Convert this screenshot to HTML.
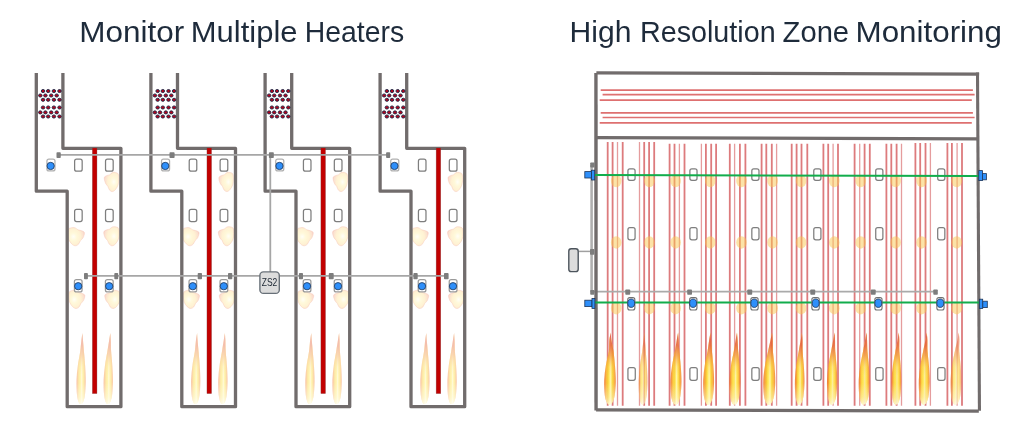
<!DOCTYPE html>
<html><head><meta charset="utf-8"><title>Heaters</title>
<style>
html,body{margin:0;padding:0;background:#fff;}
body{width:1024px;height:421px;overflow:hidden;position:relative;font-family:"Liberation Sans",sans-serif;}
.t{position:absolute;top:0;color:#1e2b3b;font-size:28.6px;white-space:nowrap;line-height:1;}
svg{position:absolute;left:0;top:0;}
text{filter:url(#noop);}
</style></head><body>
<svg width="1024" height="421" viewBox="0 0 1024 421">

<defs>
 <filter id="noop" x="-5%" y="-20%" width="110%" height="140%"><feOffset dx="0" dy="0"/></filter>
 <linearGradient id="flameL" x1="0" y1="0" x2="0" y2="1">
  <stop offset="0" stop-color="#f3a89c"/>
  <stop offset="0.3" stop-color="#f7bc98"/>
  <stop offset="0.6" stop-color="#fcdc98"/>
  <stop offset="0.85" stop-color="#fdeeb0"/>
  <stop offset="1" stop-color="#fff6d0"/>
 </linearGradient>
 <linearGradient id="flameLc" x1="0" y1="0" x2="0" y2="1">
  <stop offset="0" stop-color="#fde8c0" stop-opacity="0"/>
  <stop offset="0.45" stop-color="#fff0c0"/>
  <stop offset="0.8" stop-color="#fffbe8"/>
  <stop offset="1" stop-color="#ffffff"/>
 </linearGradient>
 <linearGradient id="flameR" x1="0" y1="0" x2="0" y2="1">
  <stop offset="0" stop-color="#e0584a" stop-opacity="0.45"/>
  <stop offset="0.12" stop-color="#e6623c" stop-opacity="0.8"/>
  <stop offset="0.22" stop-color="#ee7a32"/>
  <stop offset="0.36" stop-color="#f59c2a"/>
  <stop offset="0.5" stop-color="#fac232"/>
  <stop offset="0.66" stop-color="#fdda40"/>
  <stop offset="0.85" stop-color="#ffee78"/>
  <stop offset="1" stop-color="#fff6b8"/>
 </linearGradient>
 <linearGradient id="flameH" x1="0" y1="0" x2="1" y2="0">
  <stop offset="0" stop-color="#f07434"/>
  <stop offset="0.12" stop-color="#f69a2c"/>
  <stop offset="0.26" stop-color="#fcd030"/>
  <stop offset="0.42" stop-color="#ffe848"/>
  <stop offset="0.55" stop-color="#fff4a0"/>
  <stop offset="0.68" stop-color="#ffe848"/>
  <stop offset="0.82" stop-color="#fbc030"/>
  <stop offset="1" stop-color="#f27c34"/>
 </linearGradient>
 <linearGradient id="flameV" x1="0" y1="0" x2="0" y2="1">
  <stop offset="0" stop-color="#e05848"/>
  <stop offset="0.18" stop-color="#e86a3a"/>
  <stop offset="0.32" stop-color="#f08432" stop-opacity="0.7"/>
  <stop offset="0.48" stop-color="#f8a030" stop-opacity="0.15"/>
  <stop offset="0.6" stop-color="#f8a030" stop-opacity="0"/>
 </linearGradient>
 <linearGradient id="flameB" x1="0" y1="0" x2="0" y2="1">
  <stop offset="0.7" stop-color="#fff8d0" stop-opacity="0"/>
  <stop offset="0.9" stop-color="#fff8d0" stop-opacity="0.45"/>
  <stop offset="1" stop-color="#ffffff" stop-opacity="0.7"/>
 </linearGradient>
 <linearGradient id="flameEdge" x1="0" y1="0" x2="0" y2="1">
  <stop offset="0" stop-color="#e05a4a" stop-opacity="0.5"/>
  <stop offset="0.3" stop-color="#e8683a" stop-opacity="0.8"/>
  <stop offset="0.7" stop-color="#f49a30" stop-opacity="0.8"/>
  <stop offset="1" stop-color="#fcd040" stop-opacity="0.6"/>
 </linearGradient>
 <linearGradient id="flameRc" x1="0" y1="0" x2="0" y2="1">
  <stop offset="0" stop-color="#ffd040" stop-opacity="0"/>
  <stop offset="0.35" stop-color="#fcd434" stop-opacity="0.6"/>
  <stop offset="0.6" stop-color="#fff080"/>
  <stop offset="0.82" stop-color="#fffce8"/>
  <stop offset="1" stop-color="#ffffff"/>
 </linearGradient>
 <radialGradient id="blobLr" cx="0.66" cy="0.5" r="0.7">
  <stop offset="0" stop-color="#fffef6"/>
  <stop offset="0.3" stop-color="#fff8d4"/>
  <stop offset="0.6" stop-color="#fff0cc"/>
  <stop offset="0.85" stop-color="#fbdcc8"/>
  <stop offset="1" stop-color="#f8c8bc"/>
 </radialGradient>
 <radialGradient id="blobLl" cx="0.34" cy="0.5" r="0.7">
  <stop offset="0" stop-color="#fffef6"/>
  <stop offset="0.3" stop-color="#fff8d4"/>
  <stop offset="0.6" stop-color="#fff0cc"/>
  <stop offset="0.85" stop-color="#fbdcc8"/>
  <stop offset="1" stop-color="#f8c8bc"/>
 </radialGradient>
 <radialGradient id="blobR" cx="0.6" cy="0.5" r="0.6">
  <stop offset="0" stop-color="#fde9a8"/>
  <stop offset="0.6" stop-color="#fce2a0"/>
  <stop offset="1" stop-color="#f5b860"/>
 </radialGradient>
</defs>

<g id="left"><g opacity="0.42"><path d="M82.5,333 C82.31,334.18 81.76,337.02 81.38,340.1 C81,343.18 80.82,347.2 80.22,351.46 C79.62,355.72 78.42,360.93 77.8,365.66 C77.18,370.39 76.64,375.01 76.5,379.86 C76.36,384.71 76.58,390.98 76.97,394.77 C77.35,398.56 78.17,401.04 78.83,402.58 C79.48,404.12 80.2,404 80.87,404 C81.54,404 82.16,404 82.82,402.58 C83.49,401.16 84.37,399.03 84.87,395.48 C85.37,391.93 85.75,386.25 85.8,381.28 C85.85,376.31 85.46,370.63 85.15,365.66 C84.84,360.69 84.3,355.72 83.94,351.46 C83.58,347.2 83.2,343.18 82.97,340.1 C82.73,337.02 82.58,334.18 82.5,333 Z" fill="url(#flameH)"/><path d="M82.5,333 C82.31,334.18 81.76,337.02 81.38,340.1 C81,343.18 80.82,347.2 80.22,351.46 C79.62,355.72 78.42,360.93 77.8,365.66 C77.18,370.39 76.64,375.01 76.5,379.86 C76.36,384.71 76.58,390.98 76.97,394.77 C77.35,398.56 78.17,401.04 78.83,402.58 C79.48,404.12 80.2,404 80.87,404 C81.54,404 82.16,404 82.82,402.58 C83.49,401.16 84.37,399.03 84.87,395.48 C85.37,391.93 85.75,386.25 85.8,381.28 C85.85,376.31 85.46,370.63 85.15,365.66 C84.84,360.69 84.3,355.72 83.94,351.46 C83.58,347.2 83.2,343.18 82.97,340.1 C82.73,337.02 82.58,334.18 82.5,333 Z" fill="url(#flameV)"/><path d="M82.5,333 C82.31,334.18 81.76,337.02 81.38,340.1 C81,343.18 80.82,347.2 80.22,351.46 C79.62,355.72 78.42,360.93 77.8,365.66 C77.18,370.39 76.64,375.01 76.5,379.86 C76.36,384.71 76.58,390.98 76.97,394.77 C77.35,398.56 78.17,401.04 78.83,402.58 C79.48,404.12 80.2,404 80.87,404 C81.54,404 82.16,404 82.82,402.58 C83.49,401.16 84.37,399.03 84.87,395.48 C85.37,391.93 85.75,386.25 85.8,381.28 C85.85,376.31 85.46,370.63 85.15,365.66 C84.84,360.69 84.3,355.72 83.94,351.46 C83.58,347.2 83.2,343.18 82.97,340.1 C82.73,337.02 82.58,334.18 82.5,333 Z" fill="url(#flameB)"/></g>
<g opacity="0.42"><path d="M110.3,333 C110.11,334.18 109.66,337.02 109.17,340.1 C108.68,343.18 108.07,347.2 107.36,351.46 C106.65,355.72 105.54,360.93 104.92,365.66 C104.29,370.39 103.74,375.01 103.6,379.86 C103.46,384.71 103.68,390.98 104.07,394.77 C104.46,398.56 105.29,401.04 105.95,402.58 C106.61,404.12 107.34,404 108.02,404 C108.69,404 109.32,404 109.99,402.58 C110.67,401.16 111.56,399.03 112.06,395.48 C112.56,391.93 112.95,386.25 113,381.28 C113.05,376.31 112.66,370.63 112.34,365.66 C112.03,360.69 111.38,355.72 111.12,351.46 C110.86,347.2 110.91,343.18 110.77,340.1 C110.63,337.02 110.38,334.18 110.3,333 Z" fill="url(#flameH)"/><path d="M110.3,333 C110.11,334.18 109.66,337.02 109.17,340.1 C108.68,343.18 108.07,347.2 107.36,351.46 C106.65,355.72 105.54,360.93 104.92,365.66 C104.29,370.39 103.74,375.01 103.6,379.86 C103.46,384.71 103.68,390.98 104.07,394.77 C104.46,398.56 105.29,401.04 105.95,402.58 C106.61,404.12 107.34,404 108.02,404 C108.69,404 109.32,404 109.99,402.58 C110.67,401.16 111.56,399.03 112.06,395.48 C112.56,391.93 112.95,386.25 113,381.28 C113.05,376.31 112.66,370.63 112.34,365.66 C112.03,360.69 111.38,355.72 111.12,351.46 C110.86,347.2 110.91,343.18 110.77,340.1 C110.63,337.02 110.38,334.18 110.3,333 Z" fill="url(#flameV)"/><path d="M110.3,333 C110.11,334.18 109.66,337.02 109.17,340.1 C108.68,343.18 108.07,347.2 107.36,351.46 C106.65,355.72 105.54,360.93 104.92,365.66 C104.29,370.39 103.74,375.01 103.6,379.86 C103.46,384.71 103.68,390.98 104.07,394.77 C104.46,398.56 105.29,401.04 105.95,402.58 C106.61,404.12 107.34,404 108.02,404 C108.69,404 109.32,404 109.99,402.58 C110.67,401.16 111.56,399.03 112.06,395.48 C112.56,391.93 112.95,386.25 113,381.28 C113.05,376.31 112.66,370.63 112.34,365.66 C112.03,360.69 111.38,355.72 111.12,351.46 C110.86,347.2 110.91,343.18 110.77,340.1 C110.63,337.02 110.38,334.18 110.3,333 Z" fill="url(#flameB)"/></g>
<path d="M104.3,177.58 C104.59,176.3 106.28,175.95 107.2,175.47 C108.12,174.99 108.96,175.18 109.81,174.7 C110.66,174.22 111.36,172.98 112.27,172.59 C113.19,172.21 114.33,172.18 115.32,172.4 C116.31,172.62 117.64,172.82 118.22,173.94 C118.8,175.06 118.82,177.3 118.8,179.12 C118.78,180.94 118.65,183.12 118.07,184.88 C117.49,186.64 116.29,188.56 115.32,189.68 C114.35,190.8 113.24,191.54 112.27,191.6 C111.31,191.66 110.27,190.96 109.52,190.06 C108.77,189.17 108.46,187.38 107.78,186.22 C107.1,185.07 106.04,184.59 105.46,183.15 C104.88,181.71 104.01,178.86 104.3,177.58 Z" fill="url(#blobLr)" stroke="#f6b8a4" stroke-opacity="0.45" stroke-width="0.9" opacity="0.85"/>
<path d="M84.4,232.59 C84.07,231.38 82.13,231.05 81.08,230.6 C80.03,230.14 79.06,230.32 78.09,229.87 C77.12,229.42 76.32,228.24 75.27,227.88 C74.22,227.52 72.92,227.49 71.78,227.7 C70.65,227.91 69.13,228.09 68.46,229.15 C67.8,230.2 67.77,232.32 67.8,234.03 C67.83,235.75 67.97,237.81 68.63,239.47 C69.29,241.12 70.68,242.93 71.78,243.99 C72.89,245.05 74.16,245.74 75.27,245.8 C76.38,245.86 77.57,245.2 78.42,244.35 C79.28,243.51 79.64,241.82 80.42,240.73 C81.19,239.65 82.41,239.19 83.07,237.84 C83.74,236.48 84.73,233.79 84.4,232.59 Z" fill="url(#blobLl)" stroke="#f6b8a4" stroke-opacity="0.45" stroke-width="0.9" opacity="0.85"/>
<path d="M103.8,231.93 C104.11,230.66 105.9,230.31 106.88,229.84 C107.86,229.37 108.75,229.56 109.65,229.08 C110.55,228.61 111.29,227.37 112.27,226.99 C113.25,226.61 114.45,226.58 115.5,226.8 C116.56,227.02 117.97,227.21 118.58,228.32 C119.2,229.43 119.23,231.65 119.2,233.45 C119.17,235.26 119.05,237.41 118.43,239.15 C117.81,240.89 116.53,242.79 115.5,243.9 C114.48,245.01 113.3,245.74 112.27,245.8 C111.24,245.86 110.14,245.17 109.34,244.28 C108.55,243.39 108.21,241.62 107.5,240.48 C106.78,239.34 105.65,238.87 105.03,237.44 C104.42,236.01 103.49,233.2 103.8,231.93 Z" fill="url(#blobLr)" stroke="#f6b8a4" stroke-opacity="0.45" stroke-width="0.9" opacity="0.85"/>
<path d="M84.8,295.29 C84.48,294.08 82.61,293.75 81.6,293.3 C80.59,292.84 79.65,293.02 78.72,292.57 C77.79,292.12 77.01,290.94 76,290.58 C74.99,290.22 73.73,290.19 72.64,290.4 C71.55,290.61 70.08,290.79 69.44,291.85 C68.8,292.9 68.77,295.02 68.8,296.74 C68.83,298.45 68.96,300.51 69.6,302.16 C70.24,303.82 71.57,305.63 72.64,306.69 C73.71,307.75 74.93,308.44 76,308.5 C77.07,308.56 78.21,307.9 79.04,307.05 C79.87,306.21 80.21,304.52 80.96,303.43 C81.71,302.35 82.88,301.89 83.52,300.54 C84.16,299.18 85.12,296.49 84.8,295.29 Z" fill="url(#blobLl)" stroke="#f6b8a4" stroke-opacity="0.45" stroke-width="0.9" opacity="0.85"/>
<path d="M104.8,295.29 C105.1,294.08 106.88,293.75 107.84,293.3 C108.8,292.84 109.69,293.02 110.58,292.57 C111.46,292.12 112.2,290.94 113.16,290.58 C114.12,290.22 115.31,290.19 116.35,290.4 C117.39,290.61 118.78,290.79 119.39,291.85 C120,292.9 120.03,295.02 120,296.74 C119.97,298.45 119.85,300.51 119.24,302.16 C118.63,303.82 117.37,305.63 116.35,306.69 C115.34,307.75 114.17,308.44 113.16,308.5 C112.15,308.56 111.06,307.9 110.27,307.05 C109.49,306.21 109.16,304.52 108.45,303.43 C107.74,302.35 106.62,301.89 106.02,300.54 C105.41,299.18 104.5,296.49 104.8,295.29 Z" fill="url(#blobLr)" stroke="#f6b8a4" stroke-opacity="0.45" stroke-width="0.9" opacity="0.85"/>
<path d="M36.3,73 V191.2 H67.2 V406.7 H120.9 V148.3 H62.9 V73" fill="none" stroke="#716c6c" stroke-width="3.3" stroke-linejoin="round"/>
<rect x="92.35" y="148" width="4.6" height="245.6" fill="#c20000" stroke="#7a4a4a" stroke-width="0.5" stroke-opacity="0.6"/>
<ellipse cx="43.05" cy="91.04" rx="1.75" ry="1.55" fill="#b8001a" stroke="#222a48" stroke-width="0.95"/>
<ellipse cx="48.2" cy="91.04" rx="1.75" ry="1.55" fill="#b8001a" stroke="#222a48" stroke-width="0.95"/>
<ellipse cx="53.9" cy="91.04" rx="1.75" ry="1.55" fill="#b8001a" stroke="#222a48" stroke-width="0.95"/>
<ellipse cx="59.5" cy="91.04" rx="1.75" ry="1.55" fill="#b8001a" stroke="#222a48" stroke-width="0.95"/>
<ellipse cx="43.05" cy="99.8" rx="1.75" ry="1.55" fill="#b8001a" stroke="#222a48" stroke-width="0.95"/>
<ellipse cx="48.2" cy="99.8" rx="1.75" ry="1.55" fill="#b8001a" stroke="#222a48" stroke-width="0.95"/>
<ellipse cx="53.9" cy="99.8" rx="1.75" ry="1.55" fill="#b8001a" stroke="#222a48" stroke-width="0.95"/>
<ellipse cx="59.5" cy="99.8" rx="1.75" ry="1.55" fill="#b8001a" stroke="#222a48" stroke-width="0.95"/>
<ellipse cx="43.05" cy="107.5" rx="1.75" ry="1.55" fill="#b8001a" stroke="#222a48" stroke-width="0.95"/>
<ellipse cx="48.2" cy="107.5" rx="1.75" ry="1.55" fill="#b8001a" stroke="#222a48" stroke-width="0.95"/>
<ellipse cx="53.9" cy="107.5" rx="1.75" ry="1.55" fill="#b8001a" stroke="#222a48" stroke-width="0.95"/>
<ellipse cx="59.5" cy="107.5" rx="1.75" ry="1.55" fill="#b8001a" stroke="#222a48" stroke-width="0.95"/>
<ellipse cx="43.05" cy="116.5" rx="1.75" ry="1.55" fill="#b8001a" stroke="#222a48" stroke-width="0.95"/>
<ellipse cx="48.2" cy="116.5" rx="1.75" ry="1.55" fill="#b8001a" stroke="#222a48" stroke-width="0.95"/>
<ellipse cx="53.9" cy="116.5" rx="1.75" ry="1.55" fill="#b8001a" stroke="#222a48" stroke-width="0.95"/>
<ellipse cx="59.5" cy="116.5" rx="1.75" ry="1.55" fill="#b8001a" stroke="#222a48" stroke-width="0.95"/>
<ellipse cx="40.3" cy="95.5" rx="1.75" ry="1.55" fill="#b8001a" stroke="#222a48" stroke-width="0.95"/>
<ellipse cx="45.4" cy="95.5" rx="1.75" ry="1.55" fill="#b8001a" stroke="#222a48" stroke-width="0.95"/>
<ellipse cx="51.2" cy="95.5" rx="1.75" ry="1.55" fill="#b8001a" stroke="#222a48" stroke-width="0.95"/>
<ellipse cx="56.7" cy="95.5" rx="1.75" ry="1.55" fill="#b8001a" stroke="#222a48" stroke-width="0.95"/>
<ellipse cx="40.3" cy="112.4" rx="1.75" ry="1.55" fill="#b8001a" stroke="#222a48" stroke-width="0.95"/>
<ellipse cx="45.4" cy="112.4" rx="1.75" ry="1.55" fill="#b8001a" stroke="#222a48" stroke-width="0.95"/>
<ellipse cx="51.2" cy="112.4" rx="1.75" ry="1.55" fill="#b8001a" stroke="#222a48" stroke-width="0.95"/>
<ellipse cx="56.7" cy="112.4" rx="1.75" ry="1.55" fill="#b8001a" stroke="#222a48" stroke-width="0.95"/>
<rect x="46.92" y="159.12" width="8.05" height="11.85" rx="2" fill="#fff" stroke="#b0b0b0" stroke-width="1.25"/>
<ellipse cx="50.65" cy="165.95" rx="3.65" ry="3.65" fill="#2e8ffa" stroke="#1d3558" stroke-width="0.8"/>
<rect x="74.62" y="159.22" width="7.55" height="11.95" rx="2" fill="#fff" stroke="#7e7e7e" stroke-width="1.25"/>
<rect x="74.62" y="209.43" width="7.55" height="12.15" rx="2" fill="#fff" stroke="#7e7e7e" stroke-width="1.25"/>
<rect x="105.53" y="159.22" width="7.65" height="11.95" rx="2" fill="#fff" stroke="#7e7e7e" stroke-width="1.25"/>
<rect x="105.53" y="209.43" width="7.65" height="12.15" rx="2" fill="#fff" stroke="#7e7e7e" stroke-width="1.25"/>
<rect x="74.42" y="279.62" width="7.65" height="12.35" rx="2" fill="#fff" stroke="#9a9a9a" stroke-width="1.25"/>
<ellipse cx="78.2" cy="286.2" rx="3.65" ry="3.65" fill="#2e8ffa" stroke="#1d3558" stroke-width="0.8"/>
<rect x="105.42" y="279.62" width="7.75" height="12.35" rx="2" fill="#fff" stroke="#9a9a9a" stroke-width="1.25"/>
<ellipse cx="109.2" cy="286.2" rx="3.65" ry="3.65" fill="#2e8ffa" stroke="#1d3558" stroke-width="0.8"/>
<g opacity="0.42"><path d="M197.1,333 C196.91,334.18 196.36,337.02 195.98,340.1 C195.6,343.18 195.42,347.2 194.82,351.46 C194.22,355.72 193.02,360.93 192.4,365.66 C191.78,370.39 191.24,375.01 191.1,379.86 C190.96,384.71 191.18,390.98 191.56,394.77 C191.95,398.56 192.77,401.04 193.42,402.58 C194.08,404.12 194.8,404 195.47,404 C196.14,404 196.76,404 197.42,402.58 C198.09,401.16 198.97,399.03 199.47,395.48 C199.97,391.93 200.35,386.25 200.4,381.28 C200.45,376.31 200.06,370.63 199.75,365.66 C199.44,360.69 198.9,355.72 198.54,351.46 C198.18,347.2 197.81,343.18 197.56,340.1 C197.32,337.02 197.18,334.18 197.1,333 Z" fill="url(#flameH)"/><path d="M197.1,333 C196.91,334.18 196.36,337.02 195.98,340.1 C195.6,343.18 195.42,347.2 194.82,351.46 C194.22,355.72 193.02,360.93 192.4,365.66 C191.78,370.39 191.24,375.01 191.1,379.86 C190.96,384.71 191.18,390.98 191.56,394.77 C191.95,398.56 192.77,401.04 193.42,402.58 C194.08,404.12 194.8,404 195.47,404 C196.14,404 196.76,404 197.42,402.58 C198.09,401.16 198.97,399.03 199.47,395.48 C199.97,391.93 200.35,386.25 200.4,381.28 C200.45,376.31 200.06,370.63 199.75,365.66 C199.44,360.69 198.9,355.72 198.54,351.46 C198.18,347.2 197.81,343.18 197.56,340.1 C197.32,337.02 197.18,334.18 197.1,333 Z" fill="url(#flameV)"/><path d="M197.1,333 C196.91,334.18 196.36,337.02 195.98,340.1 C195.6,343.18 195.42,347.2 194.82,351.46 C194.22,355.72 193.02,360.93 192.4,365.66 C191.78,370.39 191.24,375.01 191.1,379.86 C190.96,384.71 191.18,390.98 191.56,394.77 C191.95,398.56 192.77,401.04 193.42,402.58 C194.08,404.12 194.8,404 195.47,404 C196.14,404 196.76,404 197.42,402.58 C198.09,401.16 198.97,399.03 199.47,395.48 C199.97,391.93 200.35,386.25 200.4,381.28 C200.45,376.31 200.06,370.63 199.75,365.66 C199.44,360.69 198.9,355.72 198.54,351.46 C198.18,347.2 197.81,343.18 197.56,340.1 C197.32,337.02 197.18,334.18 197.1,333 Z" fill="url(#flameB)"/></g>
<g opacity="0.42"><path d="M224.9,333 C224.71,334.18 224.26,337.02 223.77,340.1 C223.28,343.18 222.67,347.2 221.96,351.46 C221.25,355.72 220.14,360.93 219.52,365.66 C218.89,370.39 218.34,375.01 218.2,379.86 C218.06,384.71 218.28,390.98 218.67,394.77 C219.06,398.56 219.89,401.04 220.55,402.58 C221.21,404.12 221.94,404 222.62,404 C223.29,404 223.92,404 224.59,402.58 C225.27,401.16 226.16,399.03 226.66,395.48 C227.16,391.93 227.55,386.25 227.6,381.28 C227.65,376.31 227.26,370.63 226.94,365.66 C226.63,360.69 225.98,355.72 225.72,351.46 C225.46,347.2 225.51,343.18 225.37,340.1 C225.23,337.02 224.98,334.18 224.9,333 Z" fill="url(#flameH)"/><path d="M224.9,333 C224.71,334.18 224.26,337.02 223.77,340.1 C223.28,343.18 222.67,347.2 221.96,351.46 C221.25,355.72 220.14,360.93 219.52,365.66 C218.89,370.39 218.34,375.01 218.2,379.86 C218.06,384.71 218.28,390.98 218.67,394.77 C219.06,398.56 219.89,401.04 220.55,402.58 C221.21,404.12 221.94,404 222.62,404 C223.29,404 223.92,404 224.59,402.58 C225.27,401.16 226.16,399.03 226.66,395.48 C227.16,391.93 227.55,386.25 227.6,381.28 C227.65,376.31 227.26,370.63 226.94,365.66 C226.63,360.69 225.98,355.72 225.72,351.46 C225.46,347.2 225.51,343.18 225.37,340.1 C225.23,337.02 224.98,334.18 224.9,333 Z" fill="url(#flameV)"/><path d="M224.9,333 C224.71,334.18 224.26,337.02 223.77,340.1 C223.28,343.18 222.67,347.2 221.96,351.46 C221.25,355.72 220.14,360.93 219.52,365.66 C218.89,370.39 218.34,375.01 218.2,379.86 C218.06,384.71 218.28,390.98 218.67,394.77 C219.06,398.56 219.89,401.04 220.55,402.58 C221.21,404.12 221.94,404 222.62,404 C223.29,404 223.92,404 224.59,402.58 C225.27,401.16 226.16,399.03 226.66,395.48 C227.16,391.93 227.55,386.25 227.6,381.28 C227.65,376.31 227.26,370.63 226.94,365.66 C226.63,360.69 225.98,355.72 225.72,351.46 C225.46,347.2 225.51,343.18 225.37,340.1 C225.23,337.02 224.98,334.18 224.9,333 Z" fill="url(#flameB)"/></g>
<path d="M218.9,177.58 C219.19,176.3 220.88,175.95 221.8,175.47 C222.72,174.99 223.56,175.18 224.41,174.7 C225.26,174.22 225.96,172.98 226.87,172.59 C227.79,172.21 228.93,172.18 229.92,172.4 C230.91,172.62 232.24,172.82 232.82,173.94 C233.4,175.06 233.42,177.3 233.4,179.12 C233.38,180.94 233.25,183.12 232.67,184.88 C232.09,186.64 230.89,188.56 229.92,189.68 C228.95,190.8 227.84,191.54 226.87,191.6 C225.91,191.66 224.87,190.96 224.12,190.06 C223.37,189.17 223.06,187.38 222.38,186.22 C221.7,185.07 220.64,184.59 220.06,183.15 C219.48,181.71 218.61,178.86 218.9,177.58 Z" fill="url(#blobLr)" stroke="#f6b8a4" stroke-opacity="0.45" stroke-width="0.9" opacity="0.85"/>
<path d="M199,232.59 C198.67,231.38 196.73,231.05 195.68,230.6 C194.63,230.14 193.66,230.32 192.69,229.87 C191.72,229.42 190.92,228.24 189.87,227.88 C188.82,227.52 187.52,227.49 186.38,227.7 C185.25,227.91 183.73,228.09 183.06,229.15 C182.4,230.2 182.37,232.32 182.4,234.03 C182.43,235.75 182.57,237.81 183.23,239.47 C183.89,241.12 185.28,242.93 186.38,243.99 C187.49,245.05 188.76,245.74 189.87,245.8 C190.98,245.86 192.17,245.2 193.02,244.35 C193.88,243.51 194.24,241.82 195.02,240.73 C195.79,239.65 197.01,239.19 197.67,237.84 C198.34,236.48 199.33,233.79 199,232.59 Z" fill="url(#blobLl)" stroke="#f6b8a4" stroke-opacity="0.45" stroke-width="0.9" opacity="0.85"/>
<path d="M218.4,231.93 C218.71,230.66 220.5,230.31 221.48,229.84 C222.46,229.37 223.35,229.56 224.25,229.08 C225.15,228.61 225.89,227.37 226.87,226.99 C227.85,226.61 229.05,226.58 230.1,226.8 C231.16,227.02 232.57,227.21 233.18,228.32 C233.8,229.43 233.83,231.65 233.8,233.45 C233.77,235.26 233.65,237.41 233.03,239.15 C232.41,240.89 231.13,242.79 230.1,243.9 C229.08,245.01 227.9,245.74 226.87,245.8 C225.84,245.86 224.74,245.17 223.94,244.28 C223.15,243.39 222.81,241.62 222.1,240.48 C221.38,239.34 220.25,238.87 219.63,237.44 C219.02,236.01 218.09,233.2 218.4,231.93 Z" fill="url(#blobLr)" stroke="#f6b8a4" stroke-opacity="0.45" stroke-width="0.9" opacity="0.85"/>
<path d="M199.4,295.29 C199.08,294.08 197.21,293.75 196.2,293.3 C195.19,292.84 194.25,293.02 193.32,292.57 C192.39,292.12 191.61,290.94 190.6,290.58 C189.59,290.22 188.33,290.19 187.24,290.4 C186.15,290.61 184.68,290.79 184.04,291.85 C183.4,292.9 183.37,295.02 183.4,296.74 C183.43,298.45 183.56,300.51 184.2,302.16 C184.84,303.82 186.17,305.63 187.24,306.69 C188.31,307.75 189.53,308.44 190.6,308.5 C191.67,308.56 192.81,307.9 193.64,307.05 C194.47,306.21 194.81,304.52 195.56,303.43 C196.31,302.35 197.48,301.89 198.12,300.54 C198.76,299.18 199.72,296.49 199.4,295.29 Z" fill="url(#blobLl)" stroke="#f6b8a4" stroke-opacity="0.45" stroke-width="0.9" opacity="0.85"/>
<path d="M219.4,295.29 C219.7,294.08 221.48,293.75 222.44,293.3 C223.4,292.84 224.29,293.02 225.18,292.57 C226.06,292.12 226.8,290.94 227.76,290.58 C228.72,290.22 229.91,290.19 230.95,290.4 C231.99,290.61 233.38,290.79 233.99,291.85 C234.6,292.9 234.63,295.02 234.6,296.74 C234.57,298.45 234.45,300.51 233.84,302.16 C233.23,303.82 231.97,305.63 230.95,306.69 C229.94,307.75 228.77,308.44 227.76,308.5 C226.75,308.56 225.66,307.9 224.87,307.05 C224.09,306.21 223.76,304.52 223.05,303.43 C222.34,302.35 221.22,301.89 220.62,300.54 C220.01,299.18 219.1,296.49 219.4,295.29 Z" fill="url(#blobLr)" stroke="#f6b8a4" stroke-opacity="0.45" stroke-width="0.9" opacity="0.85"/>
<path d="M150.9,73 V191.2 H181.8 V406.7 H235.5 V148.3 H177.5 V73" fill="none" stroke="#716c6c" stroke-width="3.3" stroke-linejoin="round"/>
<rect x="206.95" y="148" width="4.6" height="245.6" fill="#c20000" stroke="#7a4a4a" stroke-width="0.5" stroke-opacity="0.6"/>
<ellipse cx="157.65" cy="91.04" rx="1.75" ry="1.55" fill="#b8001a" stroke="#222a48" stroke-width="0.95"/>
<ellipse cx="162.8" cy="91.04" rx="1.75" ry="1.55" fill="#b8001a" stroke="#222a48" stroke-width="0.95"/>
<ellipse cx="168.5" cy="91.04" rx="1.75" ry="1.55" fill="#b8001a" stroke="#222a48" stroke-width="0.95"/>
<ellipse cx="174.1" cy="91.04" rx="1.75" ry="1.55" fill="#b8001a" stroke="#222a48" stroke-width="0.95"/>
<ellipse cx="157.65" cy="99.8" rx="1.75" ry="1.55" fill="#b8001a" stroke="#222a48" stroke-width="0.95"/>
<ellipse cx="162.8" cy="99.8" rx="1.75" ry="1.55" fill="#b8001a" stroke="#222a48" stroke-width="0.95"/>
<ellipse cx="168.5" cy="99.8" rx="1.75" ry="1.55" fill="#b8001a" stroke="#222a48" stroke-width="0.95"/>
<ellipse cx="174.1" cy="99.8" rx="1.75" ry="1.55" fill="#b8001a" stroke="#222a48" stroke-width="0.95"/>
<ellipse cx="157.65" cy="107.5" rx="1.75" ry="1.55" fill="#b8001a" stroke="#222a48" stroke-width="0.95"/>
<ellipse cx="162.8" cy="107.5" rx="1.75" ry="1.55" fill="#b8001a" stroke="#222a48" stroke-width="0.95"/>
<ellipse cx="168.5" cy="107.5" rx="1.75" ry="1.55" fill="#b8001a" stroke="#222a48" stroke-width="0.95"/>
<ellipse cx="174.1" cy="107.5" rx="1.75" ry="1.55" fill="#b8001a" stroke="#222a48" stroke-width="0.95"/>
<ellipse cx="157.65" cy="116.5" rx="1.75" ry="1.55" fill="#b8001a" stroke="#222a48" stroke-width="0.95"/>
<ellipse cx="162.8" cy="116.5" rx="1.75" ry="1.55" fill="#b8001a" stroke="#222a48" stroke-width="0.95"/>
<ellipse cx="168.5" cy="116.5" rx="1.75" ry="1.55" fill="#b8001a" stroke="#222a48" stroke-width="0.95"/>
<ellipse cx="174.1" cy="116.5" rx="1.75" ry="1.55" fill="#b8001a" stroke="#222a48" stroke-width="0.95"/>
<ellipse cx="154.9" cy="95.5" rx="1.75" ry="1.55" fill="#b8001a" stroke="#222a48" stroke-width="0.95"/>
<ellipse cx="160" cy="95.5" rx="1.75" ry="1.55" fill="#b8001a" stroke="#222a48" stroke-width="0.95"/>
<ellipse cx="165.8" cy="95.5" rx="1.75" ry="1.55" fill="#b8001a" stroke="#222a48" stroke-width="0.95"/>
<ellipse cx="171.3" cy="95.5" rx="1.75" ry="1.55" fill="#b8001a" stroke="#222a48" stroke-width="0.95"/>
<ellipse cx="154.9" cy="112.4" rx="1.75" ry="1.55" fill="#b8001a" stroke="#222a48" stroke-width="0.95"/>
<ellipse cx="160" cy="112.4" rx="1.75" ry="1.55" fill="#b8001a" stroke="#222a48" stroke-width="0.95"/>
<ellipse cx="165.8" cy="112.4" rx="1.75" ry="1.55" fill="#b8001a" stroke="#222a48" stroke-width="0.95"/>
<ellipse cx="171.3" cy="112.4" rx="1.75" ry="1.55" fill="#b8001a" stroke="#222a48" stroke-width="0.95"/>
<rect x="161.52" y="159.12" width="8.05" height="11.85" rx="2" fill="#fff" stroke="#b0b0b0" stroke-width="1.25"/>
<ellipse cx="165.25" cy="165.95" rx="3.65" ry="3.65" fill="#2e8ffa" stroke="#1d3558" stroke-width="0.8"/>
<rect x="189.22" y="159.22" width="7.55" height="11.95" rx="2" fill="#fff" stroke="#7e7e7e" stroke-width="1.25"/>
<rect x="189.22" y="209.43" width="7.55" height="12.15" rx="2" fill="#fff" stroke="#7e7e7e" stroke-width="1.25"/>
<rect x="220.12" y="159.22" width="7.65" height="11.95" rx="2" fill="#fff" stroke="#7e7e7e" stroke-width="1.25"/>
<rect x="220.12" y="209.43" width="7.65" height="12.15" rx="2" fill="#fff" stroke="#7e7e7e" stroke-width="1.25"/>
<rect x="189.02" y="279.62" width="7.65" height="12.35" rx="2" fill="#fff" stroke="#9a9a9a" stroke-width="1.25"/>
<ellipse cx="192.8" cy="286.2" rx="3.65" ry="3.65" fill="#2e8ffa" stroke="#1d3558" stroke-width="0.8"/>
<rect x="220.02" y="279.62" width="7.75" height="12.35" rx="2" fill="#fff" stroke="#9a9a9a" stroke-width="1.25"/>
<ellipse cx="223.8" cy="286.2" rx="3.65" ry="3.65" fill="#2e8ffa" stroke="#1d3558" stroke-width="0.8"/>
<g opacity="0.42"><path d="M311.3,333 C311.11,334.18 310.56,337.02 310.18,340.1 C309.8,343.18 309.62,347.2 309.02,351.46 C308.42,355.72 307.22,360.93 306.6,365.66 C305.98,370.39 305.44,375.01 305.3,379.86 C305.16,384.71 305.38,390.98 305.76,394.77 C306.15,398.56 306.97,401.04 307.62,402.58 C308.28,404.12 309,404 309.67,404 C310.34,404 310.96,404 311.62,402.58 C312.29,401.16 313.17,399.03 313.67,395.48 C314.17,391.93 314.55,386.25 314.6,381.28 C314.65,376.31 314.26,370.63 313.95,365.66 C313.64,360.69 313.1,355.72 312.74,351.46 C312.38,347.2 312,343.18 311.76,340.1 C311.52,337.02 311.38,334.18 311.3,333 Z" fill="url(#flameH)"/><path d="M311.3,333 C311.11,334.18 310.56,337.02 310.18,340.1 C309.8,343.18 309.62,347.2 309.02,351.46 C308.42,355.72 307.22,360.93 306.6,365.66 C305.98,370.39 305.44,375.01 305.3,379.86 C305.16,384.71 305.38,390.98 305.76,394.77 C306.15,398.56 306.97,401.04 307.62,402.58 C308.28,404.12 309,404 309.67,404 C310.34,404 310.96,404 311.62,402.58 C312.29,401.16 313.17,399.03 313.67,395.48 C314.17,391.93 314.55,386.25 314.6,381.28 C314.65,376.31 314.26,370.63 313.95,365.66 C313.64,360.69 313.1,355.72 312.74,351.46 C312.38,347.2 312,343.18 311.76,340.1 C311.52,337.02 311.38,334.18 311.3,333 Z" fill="url(#flameV)"/><path d="M311.3,333 C311.11,334.18 310.56,337.02 310.18,340.1 C309.8,343.18 309.62,347.2 309.02,351.46 C308.42,355.72 307.22,360.93 306.6,365.66 C305.98,370.39 305.44,375.01 305.3,379.86 C305.16,384.71 305.38,390.98 305.76,394.77 C306.15,398.56 306.97,401.04 307.62,402.58 C308.28,404.12 309,404 309.67,404 C310.34,404 310.96,404 311.62,402.58 C312.29,401.16 313.17,399.03 313.67,395.48 C314.17,391.93 314.55,386.25 314.6,381.28 C314.65,376.31 314.26,370.63 313.95,365.66 C313.64,360.69 313.1,355.72 312.74,351.46 C312.38,347.2 312,343.18 311.76,340.1 C311.52,337.02 311.38,334.18 311.3,333 Z" fill="url(#flameB)"/></g>
<g opacity="0.42"><path d="M339.1,333 C338.91,334.18 338.46,337.02 337.97,340.1 C337.48,343.18 336.87,347.2 336.16,351.46 C335.45,355.72 334.34,360.93 333.72,365.66 C333.09,370.39 332.54,375.01 332.4,379.86 C332.26,384.71 332.48,390.98 332.87,394.77 C333.26,398.56 334.09,401.04 334.75,402.58 C335.41,404.12 336.14,404 336.82,404 C337.49,404 338.12,404 338.79,402.58 C339.47,401.16 340.36,399.03 340.86,395.48 C341.36,391.93 341.75,386.25 341.8,381.28 C341.85,376.31 341.46,370.63 341.14,365.66 C340.83,360.69 340.18,355.72 339.92,351.46 C339.66,347.2 339.71,343.18 339.57,340.1 C339.43,337.02 339.18,334.18 339.1,333 Z" fill="url(#flameH)"/><path d="M339.1,333 C338.91,334.18 338.46,337.02 337.97,340.1 C337.48,343.18 336.87,347.2 336.16,351.46 C335.45,355.72 334.34,360.93 333.72,365.66 C333.09,370.39 332.54,375.01 332.4,379.86 C332.26,384.71 332.48,390.98 332.87,394.77 C333.26,398.56 334.09,401.04 334.75,402.58 C335.41,404.12 336.14,404 336.82,404 C337.49,404 338.12,404 338.79,402.58 C339.47,401.16 340.36,399.03 340.86,395.48 C341.36,391.93 341.75,386.25 341.8,381.28 C341.85,376.31 341.46,370.63 341.14,365.66 C340.83,360.69 340.18,355.72 339.92,351.46 C339.66,347.2 339.71,343.18 339.57,340.1 C339.43,337.02 339.18,334.18 339.1,333 Z" fill="url(#flameV)"/><path d="M339.1,333 C338.91,334.18 338.46,337.02 337.97,340.1 C337.48,343.18 336.87,347.2 336.16,351.46 C335.45,355.72 334.34,360.93 333.72,365.66 C333.09,370.39 332.54,375.01 332.4,379.86 C332.26,384.71 332.48,390.98 332.87,394.77 C333.26,398.56 334.09,401.04 334.75,402.58 C335.41,404.12 336.14,404 336.82,404 C337.49,404 338.12,404 338.79,402.58 C339.47,401.16 340.36,399.03 340.86,395.48 C341.36,391.93 341.75,386.25 341.8,381.28 C341.85,376.31 341.46,370.63 341.14,365.66 C340.83,360.69 340.18,355.72 339.92,351.46 C339.66,347.2 339.71,343.18 339.57,340.1 C339.43,337.02 339.18,334.18 339.1,333 Z" fill="url(#flameB)"/></g>
<path d="M333.1,177.58 C333.39,176.3 335.08,175.95 336,175.47 C336.92,174.99 337.76,175.18 338.61,174.7 C339.46,174.22 340.16,172.98 341.08,172.59 C341.99,172.21 343.13,172.18 344.12,172.4 C345.11,172.62 346.44,172.82 347.02,173.94 C347.6,175.06 347.62,177.3 347.6,179.12 C347.58,180.94 347.45,183.12 346.88,184.88 C346.3,186.64 345.09,188.56 344.12,189.68 C343.15,190.8 342.04,191.54 341.08,191.6 C340.11,191.66 339.07,190.96 338.32,190.06 C337.57,189.17 337.26,187.38 336.58,186.22 C335.9,185.07 334.84,184.59 334.26,183.15 C333.68,181.71 332.81,178.86 333.1,177.58 Z" fill="url(#blobLr)" stroke="#f6b8a4" stroke-opacity="0.45" stroke-width="0.9" opacity="0.85"/>
<path d="M313.2,232.59 C312.87,231.38 310.93,231.05 309.88,230.6 C308.83,230.14 307.86,230.32 306.89,229.87 C305.92,229.42 305.12,228.24 304.07,227.88 C303.02,227.52 301.72,227.49 300.58,227.7 C299.45,227.91 297.93,228.09 297.26,229.15 C296.6,230.2 296.57,232.32 296.6,234.03 C296.63,235.75 296.77,237.81 297.43,239.47 C298.09,241.12 299.48,242.93 300.58,243.99 C301.69,245.05 302.96,245.74 304.07,245.8 C305.18,245.86 306.37,245.2 307.22,244.35 C308.08,243.51 308.44,241.82 309.22,240.73 C309.99,239.65 311.21,239.19 311.87,237.84 C312.54,236.48 313.53,233.79 313.2,232.59 Z" fill="url(#blobLl)" stroke="#f6b8a4" stroke-opacity="0.45" stroke-width="0.9" opacity="0.85"/>
<path d="M332.6,231.93 C332.91,230.66 334.7,230.31 335.68,229.84 C336.66,229.37 337.55,229.56 338.45,229.08 C339.35,228.61 340.09,227.37 341.07,226.99 C342.05,226.61 343.25,226.58 344.3,226.8 C345.36,227.02 346.77,227.21 347.38,228.32 C348,229.43 348.03,231.65 348,233.45 C347.97,235.26 347.85,237.41 347.23,239.15 C346.61,240.89 345.33,242.79 344.3,243.9 C343.28,245.01 342.1,245.74 341.07,245.8 C340.04,245.86 338.94,245.17 338.14,244.28 C337.35,243.39 337.01,241.62 336.3,240.48 C335.58,239.34 334.45,238.87 333.83,237.44 C333.22,236.01 332.29,233.2 332.6,231.93 Z" fill="url(#blobLr)" stroke="#f6b8a4" stroke-opacity="0.45" stroke-width="0.9" opacity="0.85"/>
<path d="M313.6,295.29 C313.28,294.08 311.41,293.75 310.4,293.3 C309.39,292.84 308.45,293.02 307.52,292.57 C306.59,292.12 305.81,290.94 304.8,290.58 C303.79,290.22 302.53,290.19 301.44,290.4 C300.35,290.61 298.88,290.79 298.24,291.85 C297.6,292.9 297.57,295.02 297.6,296.74 C297.63,298.45 297.76,300.51 298.4,302.16 C299.04,303.82 300.37,305.63 301.44,306.69 C302.51,307.75 303.73,308.44 304.8,308.5 C305.87,308.56 307.01,307.9 307.84,307.05 C308.67,306.21 309.01,304.52 309.76,303.43 C310.51,302.35 311.68,301.89 312.32,300.54 C312.96,299.18 313.92,296.49 313.6,295.29 Z" fill="url(#blobLl)" stroke="#f6b8a4" stroke-opacity="0.45" stroke-width="0.9" opacity="0.85"/>
<path d="M333.6,295.29 C333.9,294.08 335.68,293.75 336.64,293.3 C337.6,292.84 338.49,293.02 339.38,292.57 C340.26,292.12 341,290.94 341.96,290.58 C342.92,290.22 344.11,290.19 345.15,290.4 C346.19,290.61 347.58,290.79 348.19,291.85 C348.8,292.9 348.83,295.02 348.8,296.74 C348.77,298.45 348.65,300.51 348.04,302.16 C347.43,303.82 346.17,305.63 345.15,306.69 C344.14,307.75 342.97,308.44 341.96,308.5 C340.95,308.56 339.86,307.9 339.07,307.05 C338.29,306.21 337.96,304.52 337.25,303.43 C336.54,302.35 335.42,301.89 334.82,300.54 C334.21,299.18 333.3,296.49 333.6,295.29 Z" fill="url(#blobLr)" stroke="#f6b8a4" stroke-opacity="0.45" stroke-width="0.9" opacity="0.85"/>
<path d="M265.1,73 V191.2 H296 V406.7 H349.7 V148.3 H291.7 V73" fill="none" stroke="#716c6c" stroke-width="3.3" stroke-linejoin="round"/>
<rect x="320.9" y="148" width="4.6" height="245.6" fill="#c20000" stroke="#7a4a4a" stroke-width="0.5" stroke-opacity="0.6"/>
<ellipse cx="271.85" cy="91.04" rx="1.75" ry="1.55" fill="#b8001a" stroke="#222a48" stroke-width="0.95"/>
<ellipse cx="277" cy="91.04" rx="1.75" ry="1.55" fill="#b8001a" stroke="#222a48" stroke-width="0.95"/>
<ellipse cx="282.7" cy="91.04" rx="1.75" ry="1.55" fill="#b8001a" stroke="#222a48" stroke-width="0.95"/>
<ellipse cx="288.3" cy="91.04" rx="1.75" ry="1.55" fill="#b8001a" stroke="#222a48" stroke-width="0.95"/>
<ellipse cx="271.85" cy="99.8" rx="1.75" ry="1.55" fill="#b8001a" stroke="#222a48" stroke-width="0.95"/>
<ellipse cx="277" cy="99.8" rx="1.75" ry="1.55" fill="#b8001a" stroke="#222a48" stroke-width="0.95"/>
<ellipse cx="282.7" cy="99.8" rx="1.75" ry="1.55" fill="#b8001a" stroke="#222a48" stroke-width="0.95"/>
<ellipse cx="288.3" cy="99.8" rx="1.75" ry="1.55" fill="#b8001a" stroke="#222a48" stroke-width="0.95"/>
<ellipse cx="271.85" cy="107.5" rx="1.75" ry="1.55" fill="#b8001a" stroke="#222a48" stroke-width="0.95"/>
<ellipse cx="277" cy="107.5" rx="1.75" ry="1.55" fill="#b8001a" stroke="#222a48" stroke-width="0.95"/>
<ellipse cx="282.7" cy="107.5" rx="1.75" ry="1.55" fill="#b8001a" stroke="#222a48" stroke-width="0.95"/>
<ellipse cx="288.3" cy="107.5" rx="1.75" ry="1.55" fill="#b8001a" stroke="#222a48" stroke-width="0.95"/>
<ellipse cx="271.85" cy="116.5" rx="1.75" ry="1.55" fill="#b8001a" stroke="#222a48" stroke-width="0.95"/>
<ellipse cx="277" cy="116.5" rx="1.75" ry="1.55" fill="#b8001a" stroke="#222a48" stroke-width="0.95"/>
<ellipse cx="282.7" cy="116.5" rx="1.75" ry="1.55" fill="#b8001a" stroke="#222a48" stroke-width="0.95"/>
<ellipse cx="288.3" cy="116.5" rx="1.75" ry="1.55" fill="#b8001a" stroke="#222a48" stroke-width="0.95"/>
<ellipse cx="269.1" cy="95.5" rx="1.75" ry="1.55" fill="#b8001a" stroke="#222a48" stroke-width="0.95"/>
<ellipse cx="274.2" cy="95.5" rx="1.75" ry="1.55" fill="#b8001a" stroke="#222a48" stroke-width="0.95"/>
<ellipse cx="280" cy="95.5" rx="1.75" ry="1.55" fill="#b8001a" stroke="#222a48" stroke-width="0.95"/>
<ellipse cx="285.5" cy="95.5" rx="1.75" ry="1.55" fill="#b8001a" stroke="#222a48" stroke-width="0.95"/>
<ellipse cx="269.1" cy="112.4" rx="1.75" ry="1.55" fill="#b8001a" stroke="#222a48" stroke-width="0.95"/>
<ellipse cx="274.2" cy="112.4" rx="1.75" ry="1.55" fill="#b8001a" stroke="#222a48" stroke-width="0.95"/>
<ellipse cx="280" cy="112.4" rx="1.75" ry="1.55" fill="#b8001a" stroke="#222a48" stroke-width="0.95"/>
<ellipse cx="285.5" cy="112.4" rx="1.75" ry="1.55" fill="#b8001a" stroke="#222a48" stroke-width="0.95"/>
<rect x="275.73" y="159.12" width="8.05" height="11.85" rx="2" fill="#fff" stroke="#b0b0b0" stroke-width="1.25"/>
<ellipse cx="279.45" cy="165.95" rx="3.65" ry="3.65" fill="#2e8ffa" stroke="#1d3558" stroke-width="0.8"/>
<rect x="303.43" y="159.22" width="7.55" height="11.95" rx="2" fill="#fff" stroke="#7e7e7e" stroke-width="1.25"/>
<rect x="303.43" y="209.43" width="7.55" height="12.15" rx="2" fill="#fff" stroke="#7e7e7e" stroke-width="1.25"/>
<rect x="334.33" y="159.22" width="7.65" height="11.95" rx="2" fill="#fff" stroke="#7e7e7e" stroke-width="1.25"/>
<rect x="334.33" y="209.43" width="7.65" height="12.15" rx="2" fill="#fff" stroke="#7e7e7e" stroke-width="1.25"/>
<rect x="303.23" y="279.62" width="7.65" height="12.35" rx="2" fill="#fff" stroke="#9a9a9a" stroke-width="1.25"/>
<ellipse cx="307" cy="286.2" rx="3.65" ry="3.65" fill="#2e8ffa" stroke="#1d3558" stroke-width="0.8"/>
<rect x="334.23" y="279.62" width="7.75" height="12.35" rx="2" fill="#fff" stroke="#9a9a9a" stroke-width="1.25"/>
<ellipse cx="338" cy="286.2" rx="3.65" ry="3.65" fill="#2e8ffa" stroke="#1d3558" stroke-width="0.8"/>
<g opacity="0.42"><path d="M426.3,333 C426.11,334.18 425.56,337.02 425.18,340.1 C424.8,343.18 424.62,347.2 424.02,351.46 C423.42,355.72 422.22,360.93 421.6,365.66 C420.98,370.39 420.44,375.01 420.3,379.86 C420.16,384.71 420.38,390.98 420.76,394.77 C421.15,398.56 421.97,401.04 422.62,402.58 C423.28,404.12 424,404 424.67,404 C425.34,404 425.96,404 426.62,402.58 C427.29,401.16 428.17,399.03 428.67,395.48 C429.17,391.93 429.55,386.25 429.6,381.28 C429.65,376.31 429.26,370.63 428.95,365.66 C428.64,360.69 428.1,355.72 427.74,351.46 C427.38,347.2 427,343.18 426.76,340.1 C426.52,337.02 426.38,334.18 426.3,333 Z" fill="url(#flameH)"/><path d="M426.3,333 C426.11,334.18 425.56,337.02 425.18,340.1 C424.8,343.18 424.62,347.2 424.02,351.46 C423.42,355.72 422.22,360.93 421.6,365.66 C420.98,370.39 420.44,375.01 420.3,379.86 C420.16,384.71 420.38,390.98 420.76,394.77 C421.15,398.56 421.97,401.04 422.62,402.58 C423.28,404.12 424,404 424.67,404 C425.34,404 425.96,404 426.62,402.58 C427.29,401.16 428.17,399.03 428.67,395.48 C429.17,391.93 429.55,386.25 429.6,381.28 C429.65,376.31 429.26,370.63 428.95,365.66 C428.64,360.69 428.1,355.72 427.74,351.46 C427.38,347.2 427,343.18 426.76,340.1 C426.52,337.02 426.38,334.18 426.3,333 Z" fill="url(#flameV)"/><path d="M426.3,333 C426.11,334.18 425.56,337.02 425.18,340.1 C424.8,343.18 424.62,347.2 424.02,351.46 C423.42,355.72 422.22,360.93 421.6,365.66 C420.98,370.39 420.44,375.01 420.3,379.86 C420.16,384.71 420.38,390.98 420.76,394.77 C421.15,398.56 421.97,401.04 422.62,402.58 C423.28,404.12 424,404 424.67,404 C425.34,404 425.96,404 426.62,402.58 C427.29,401.16 428.17,399.03 428.67,395.48 C429.17,391.93 429.55,386.25 429.6,381.28 C429.65,376.31 429.26,370.63 428.95,365.66 C428.64,360.69 428.1,355.72 427.74,351.46 C427.38,347.2 427,343.18 426.76,340.1 C426.52,337.02 426.38,334.18 426.3,333 Z" fill="url(#flameB)"/></g>
<g opacity="0.42"><path d="M454.1,333 C453.91,334.18 453.46,337.02 452.97,340.1 C452.48,343.18 451.87,347.2 451.16,351.46 C450.45,355.72 449.34,360.93 448.72,365.66 C448.09,370.39 447.54,375.01 447.4,379.86 C447.26,384.71 447.48,390.98 447.87,394.77 C448.26,398.56 449.09,401.04 449.75,402.58 C450.41,404.12 451.14,404 451.82,404 C452.49,404 453.12,404 453.79,402.58 C454.47,401.16 455.36,399.03 455.86,395.48 C456.36,391.93 456.75,386.25 456.8,381.28 C456.85,376.31 456.46,370.63 456.14,365.66 C455.83,360.69 455.18,355.72 454.92,351.46 C454.66,347.2 454.71,343.18 454.57,340.1 C454.43,337.02 454.18,334.18 454.1,333 Z" fill="url(#flameH)"/><path d="M454.1,333 C453.91,334.18 453.46,337.02 452.97,340.1 C452.48,343.18 451.87,347.2 451.16,351.46 C450.45,355.72 449.34,360.93 448.72,365.66 C448.09,370.39 447.54,375.01 447.4,379.86 C447.26,384.71 447.48,390.98 447.87,394.77 C448.26,398.56 449.09,401.04 449.75,402.58 C450.41,404.12 451.14,404 451.82,404 C452.49,404 453.12,404 453.79,402.58 C454.47,401.16 455.36,399.03 455.86,395.48 C456.36,391.93 456.75,386.25 456.8,381.28 C456.85,376.31 456.46,370.63 456.14,365.66 C455.83,360.69 455.18,355.72 454.92,351.46 C454.66,347.2 454.71,343.18 454.57,340.1 C454.43,337.02 454.18,334.18 454.1,333 Z" fill="url(#flameV)"/><path d="M454.1,333 C453.91,334.18 453.46,337.02 452.97,340.1 C452.48,343.18 451.87,347.2 451.16,351.46 C450.45,355.72 449.34,360.93 448.72,365.66 C448.09,370.39 447.54,375.01 447.4,379.86 C447.26,384.71 447.48,390.98 447.87,394.77 C448.26,398.56 449.09,401.04 449.75,402.58 C450.41,404.12 451.14,404 451.82,404 C452.49,404 453.12,404 453.79,402.58 C454.47,401.16 455.36,399.03 455.86,395.48 C456.36,391.93 456.75,386.25 456.8,381.28 C456.85,376.31 456.46,370.63 456.14,365.66 C455.83,360.69 455.18,355.72 454.92,351.46 C454.66,347.2 454.71,343.18 454.57,340.1 C454.43,337.02 454.18,334.18 454.1,333 Z" fill="url(#flameB)"/></g>
<path d="M448.1,177.58 C448.39,176.3 450.08,175.95 451,175.47 C451.92,174.99 452.76,175.18 453.61,174.7 C454.46,174.22 455.16,172.98 456.08,172.59 C456.99,172.21 458.13,172.18 459.12,172.4 C460.11,172.62 461.44,172.82 462.02,173.94 C462.6,175.06 462.62,177.3 462.6,179.12 C462.58,180.94 462.45,183.12 461.88,184.88 C461.3,186.64 460.09,188.56 459.12,189.68 C458.15,190.8 457.04,191.54 456.08,191.6 C455.11,191.66 454.07,190.96 453.32,190.06 C452.57,189.17 452.26,187.38 451.58,186.22 C450.9,185.07 449.84,184.59 449.26,183.15 C448.68,181.71 447.81,178.86 448.1,177.58 Z" fill="url(#blobLr)" stroke="#f6b8a4" stroke-opacity="0.45" stroke-width="0.9" opacity="0.85"/>
<path d="M428.2,232.59 C427.87,231.38 425.93,231.05 424.88,230.6 C423.83,230.14 422.86,230.32 421.89,229.87 C420.92,229.42 420.12,228.24 419.07,227.88 C418.02,227.52 416.72,227.49 415.58,227.7 C414.45,227.91 412.93,228.09 412.26,229.15 C411.6,230.2 411.57,232.32 411.6,234.03 C411.63,235.75 411.77,237.81 412.43,239.47 C413.09,241.12 414.48,242.93 415.58,243.99 C416.69,245.05 417.96,245.74 419.07,245.8 C420.18,245.86 421.37,245.2 422.22,244.35 C423.08,243.51 423.44,241.82 424.22,240.73 C424.99,239.65 426.21,239.19 426.87,237.84 C427.54,236.48 428.53,233.79 428.2,232.59 Z" fill="url(#blobLl)" stroke="#f6b8a4" stroke-opacity="0.45" stroke-width="0.9" opacity="0.85"/>
<path d="M447.6,231.93 C447.91,230.66 449.7,230.31 450.68,229.84 C451.66,229.37 452.55,229.56 453.45,229.08 C454.35,228.61 455.09,227.37 456.07,226.99 C457.05,226.61 458.25,226.58 459.3,226.8 C460.36,227.02 461.77,227.21 462.38,228.32 C463,229.43 463.03,231.65 463,233.45 C462.97,235.26 462.85,237.41 462.23,239.15 C461.61,240.89 460.33,242.79 459.3,243.9 C458.28,245.01 457.1,245.74 456.07,245.8 C455.04,245.86 453.94,245.17 453.14,244.28 C452.35,243.39 452.01,241.62 451.3,240.48 C450.58,239.34 449.45,238.87 448.83,237.44 C448.22,236.01 447.29,233.2 447.6,231.93 Z" fill="url(#blobLr)" stroke="#f6b8a4" stroke-opacity="0.45" stroke-width="0.9" opacity="0.85"/>
<path d="M428.6,295.29 C428.28,294.08 426.41,293.75 425.4,293.3 C424.39,292.84 423.45,293.02 422.52,292.57 C421.59,292.12 420.81,290.94 419.8,290.58 C418.79,290.22 417.53,290.19 416.44,290.4 C415.35,290.61 413.88,290.79 413.24,291.85 C412.6,292.9 412.57,295.02 412.6,296.74 C412.63,298.45 412.76,300.51 413.4,302.16 C414.04,303.82 415.37,305.63 416.44,306.69 C417.51,307.75 418.73,308.44 419.8,308.5 C420.87,308.56 422.01,307.9 422.84,307.05 C423.67,306.21 424.01,304.52 424.76,303.43 C425.51,302.35 426.68,301.89 427.32,300.54 C427.96,299.18 428.92,296.49 428.6,295.29 Z" fill="url(#blobLl)" stroke="#f6b8a4" stroke-opacity="0.45" stroke-width="0.9" opacity="0.85"/>
<path d="M448.6,295.29 C448.9,294.08 450.68,293.75 451.64,293.3 C452.6,292.84 453.49,293.02 454.38,292.57 C455.26,292.12 456,290.94 456.96,290.58 C457.92,290.22 459.11,290.19 460.15,290.4 C461.19,290.61 462.58,290.79 463.19,291.85 C463.8,292.9 463.83,295.02 463.8,296.74 C463.77,298.45 463.65,300.51 463.04,302.16 C462.43,303.82 461.17,305.63 460.15,306.69 C459.14,307.75 457.97,308.44 456.96,308.5 C455.95,308.56 454.86,307.9 454.07,307.05 C453.29,306.21 452.96,304.52 452.25,303.43 C451.54,302.35 450.42,301.89 449.82,300.54 C449.21,299.18 448.3,296.49 448.6,295.29 Z" fill="url(#blobLr)" stroke="#f6b8a4" stroke-opacity="0.45" stroke-width="0.9" opacity="0.85"/>
<path d="M380.1,73 V191.2 H411 V406.7 H464.7 V148.3 H406.7 V73" fill="none" stroke="#716c6c" stroke-width="3.3" stroke-linejoin="round"/>
<rect x="436.15" y="148" width="4.6" height="245.6" fill="#c20000" stroke="#7a4a4a" stroke-width="0.5" stroke-opacity="0.6"/>
<ellipse cx="386.85" cy="91.04" rx="1.75" ry="1.55" fill="#b8001a" stroke="#222a48" stroke-width="0.95"/>
<ellipse cx="392" cy="91.04" rx="1.75" ry="1.55" fill="#b8001a" stroke="#222a48" stroke-width="0.95"/>
<ellipse cx="397.7" cy="91.04" rx="1.75" ry="1.55" fill="#b8001a" stroke="#222a48" stroke-width="0.95"/>
<ellipse cx="403.3" cy="91.04" rx="1.75" ry="1.55" fill="#b8001a" stroke="#222a48" stroke-width="0.95"/>
<ellipse cx="386.85" cy="99.8" rx="1.75" ry="1.55" fill="#b8001a" stroke="#222a48" stroke-width="0.95"/>
<ellipse cx="392" cy="99.8" rx="1.75" ry="1.55" fill="#b8001a" stroke="#222a48" stroke-width="0.95"/>
<ellipse cx="397.7" cy="99.8" rx="1.75" ry="1.55" fill="#b8001a" stroke="#222a48" stroke-width="0.95"/>
<ellipse cx="403.3" cy="99.8" rx="1.75" ry="1.55" fill="#b8001a" stroke="#222a48" stroke-width="0.95"/>
<ellipse cx="386.85" cy="107.5" rx="1.75" ry="1.55" fill="#b8001a" stroke="#222a48" stroke-width="0.95"/>
<ellipse cx="392" cy="107.5" rx="1.75" ry="1.55" fill="#b8001a" stroke="#222a48" stroke-width="0.95"/>
<ellipse cx="397.7" cy="107.5" rx="1.75" ry="1.55" fill="#b8001a" stroke="#222a48" stroke-width="0.95"/>
<ellipse cx="403.3" cy="107.5" rx="1.75" ry="1.55" fill="#b8001a" stroke="#222a48" stroke-width="0.95"/>
<ellipse cx="386.85" cy="116.5" rx="1.75" ry="1.55" fill="#b8001a" stroke="#222a48" stroke-width="0.95"/>
<ellipse cx="392" cy="116.5" rx="1.75" ry="1.55" fill="#b8001a" stroke="#222a48" stroke-width="0.95"/>
<ellipse cx="397.7" cy="116.5" rx="1.75" ry="1.55" fill="#b8001a" stroke="#222a48" stroke-width="0.95"/>
<ellipse cx="403.3" cy="116.5" rx="1.75" ry="1.55" fill="#b8001a" stroke="#222a48" stroke-width="0.95"/>
<ellipse cx="384.1" cy="95.5" rx="1.75" ry="1.55" fill="#b8001a" stroke="#222a48" stroke-width="0.95"/>
<ellipse cx="389.2" cy="95.5" rx="1.75" ry="1.55" fill="#b8001a" stroke="#222a48" stroke-width="0.95"/>
<ellipse cx="395" cy="95.5" rx="1.75" ry="1.55" fill="#b8001a" stroke="#222a48" stroke-width="0.95"/>
<ellipse cx="400.5" cy="95.5" rx="1.75" ry="1.55" fill="#b8001a" stroke="#222a48" stroke-width="0.95"/>
<ellipse cx="384.1" cy="112.4" rx="1.75" ry="1.55" fill="#b8001a" stroke="#222a48" stroke-width="0.95"/>
<ellipse cx="389.2" cy="112.4" rx="1.75" ry="1.55" fill="#b8001a" stroke="#222a48" stroke-width="0.95"/>
<ellipse cx="395" cy="112.4" rx="1.75" ry="1.55" fill="#b8001a" stroke="#222a48" stroke-width="0.95"/>
<ellipse cx="400.5" cy="112.4" rx="1.75" ry="1.55" fill="#b8001a" stroke="#222a48" stroke-width="0.95"/>
<rect x="390.73" y="159.12" width="8.05" height="11.85" rx="2" fill="#fff" stroke="#b0b0b0" stroke-width="1.25"/>
<ellipse cx="394.45" cy="165.95" rx="3.65" ry="3.65" fill="#2e8ffa" stroke="#1d3558" stroke-width="0.8"/>
<rect x="418.43" y="159.22" width="7.55" height="11.95" rx="2" fill="#fff" stroke="#7e7e7e" stroke-width="1.25"/>
<rect x="418.43" y="209.43" width="7.55" height="12.15" rx="2" fill="#fff" stroke="#7e7e7e" stroke-width="1.25"/>
<rect x="449.33" y="159.22" width="7.65" height="11.95" rx="2" fill="#fff" stroke="#7e7e7e" stroke-width="1.25"/>
<rect x="449.33" y="209.43" width="7.65" height="12.15" rx="2" fill="#fff" stroke="#7e7e7e" stroke-width="1.25"/>
<rect x="418.23" y="279.62" width="7.65" height="12.35" rx="2" fill="#fff" stroke="#9a9a9a" stroke-width="1.25"/>
<ellipse cx="422" cy="286.2" rx="3.65" ry="3.65" fill="#2e8ffa" stroke="#1d3558" stroke-width="0.8"/>
<rect x="449.23" y="279.62" width="7.75" height="12.35" rx="2" fill="#fff" stroke="#9a9a9a" stroke-width="1.25"/>
<ellipse cx="453" cy="286.2" rx="3.65" ry="3.65" fill="#2e8ffa" stroke="#1d3558" stroke-width="0.8"/>
<line x1="60" y1="154.8" x2="388" y2="154.8" stroke="#a6a6a6" stroke-width="1.8"/>
<line x1="270.3" y1="155" x2="270.3" y2="272" stroke="#a6a6a6" stroke-width="1.8"/>
<line x1="86" y1="275.9" x2="447" y2="275.9" stroke="#a6a6a6" stroke-width="1.8"/>
<rect x="56.5" y="152.3" width="4.25" height="5.7" rx="0.8" fill="#7d7d7d"/>
<rect x="169.5" y="152.3" width="5.1" height="5.7" rx="0.8" fill="#7d7d7d"/>
<rect x="268.9" y="152.3" width="4.9" height="5.7" rx="0.8" fill="#7d7d7d"/>
<rect x="386.1" y="152.3" width="4.1" height="5.7" rx="0.8" fill="#7d7d7d"/>
<rect x="84" y="273.1" width="3.9" height="6.2" rx="0.8" fill="#7d7d7d"/>
<rect x="114.3" y="273.1" width="3.9" height="6.2" rx="0.8" fill="#7d7d7d"/>
<rect x="197.7" y="273.1" width="4.3" height="6.2" rx="0.8" fill="#7d7d7d"/>
<rect x="228" y="273.1" width="4.3" height="6.2" rx="0.8" fill="#7d7d7d"/>
<rect x="298.9" y="273.1" width="4.1" height="6.2" rx="0.8" fill="#7d7d7d"/>
<rect x="328.8" y="273.1" width="4.9" height="6.2" rx="0.8" fill="#7d7d7d"/>
<rect x="413.4" y="273.1" width="4.3" height="6.2" rx="0.8" fill="#7d7d7d"/>
<rect x="444" y="273.1" width="4.6" height="6.2" rx="0.8" fill="#7d7d7d"/>
<rect x="259.9" y="271.9" width="19.4" height="21.5" rx="3.5" fill="#dcdcdc" stroke="#687078" stroke-width="1.4"/>
<text x="269.5" y="285.9" text-anchor="middle" font-family="Liberation Sans, sans-serif" font-size="10.6" fill="#222c38" textLength="15.6" lengthAdjust="spacingAndGlyphs">ZS2</text></g>
<g id="right"><line x1="607.7" y1="142.1" x2="607.7" y2="405.8" stroke="#d45a5c" stroke-opacity="0.8" stroke-width="1.8"/>
<line x1="612.6" y1="142.1" x2="612.6" y2="405.8" stroke="#d45a5c" stroke-opacity="0.8" stroke-width="1.8"/>
<line x1="617.5" y1="142.1" x2="617.5" y2="405.8" stroke="#d45a5c" stroke-opacity="0.6" stroke-width="1.3"/>
<line x1="622.7" y1="142.1" x2="622.7" y2="405.8" stroke="#d45a5c" stroke-opacity="0.8" stroke-width="1.8"/>
<line x1="639.5" y1="142.1" x2="639.5" y2="405.8" stroke="#d45a5c" stroke-opacity="0.6" stroke-width="1.3"/>
<line x1="644.2" y1="142.1" x2="644.2" y2="405.8" stroke="#d45a5c" stroke-opacity="0.8" stroke-width="1.8"/>
<line x1="649.1" y1="142.1" x2="649.1" y2="405.8" stroke="#d45a5c" stroke-opacity="0.8" stroke-width="1.8"/>
<line x1="654.2" y1="142.1" x2="654.2" y2="405.8" stroke="#d45a5c" stroke-opacity="0.8" stroke-width="1.8"/>
<line x1="669.6" y1="143.8" x2="669.6" y2="405.8" stroke="#d45a5c" stroke-opacity="0.8" stroke-width="1.8"/>
<line x1="674.5" y1="143.8" x2="674.5" y2="405.8" stroke="#d45a5c" stroke-opacity="0.8" stroke-width="1.8"/>
<line x1="679.4" y1="143.8" x2="679.4" y2="405.8" stroke="#d45a5c" stroke-opacity="0.6" stroke-width="1.3"/>
<line x1="684.5" y1="143.8" x2="684.5" y2="405.8" stroke="#d45a5c" stroke-opacity="0.8" stroke-width="1.8"/>
<line x1="701.4" y1="143.8" x2="701.4" y2="405.8" stroke="#d45a5c" stroke-opacity="0.6" stroke-width="1.3"/>
<line x1="705.9" y1="143.8" x2="705.9" y2="405.8" stroke="#d45a5c" stroke-opacity="0.8" stroke-width="1.8"/>
<line x1="711.2" y1="143.8" x2="711.2" y2="405.8" stroke="#d45a5c" stroke-opacity="0.8" stroke-width="1.8"/>
<line x1="716.1" y1="143.8" x2="716.1" y2="405.8" stroke="#d45a5c" stroke-opacity="0.8" stroke-width="1.8"/>
<line x1="729.8" y1="143.8" x2="729.8" y2="405.8" stroke="#d45a5c" stroke-opacity="0.8" stroke-width="1.8"/>
<line x1="734.6" y1="143.8" x2="734.6" y2="405.8" stroke="#d45a5c" stroke-opacity="0.6" stroke-width="1.3"/>
<line x1="739.9" y1="143.8" x2="739.9" y2="405.8" stroke="#d45a5c" stroke-opacity="0.8" stroke-width="1.8"/>
<line x1="745.4" y1="143.8" x2="745.4" y2="405.8" stroke="#d45a5c" stroke-opacity="0.8" stroke-width="1.8"/>
<line x1="761.6" y1="143.8" x2="761.6" y2="405.8" stroke="#d45a5c" stroke-opacity="0.8" stroke-width="1.8"/>
<line x1="766.3" y1="143.8" x2="766.3" y2="405.8" stroke="#d45a5c" stroke-opacity="0.8" stroke-width="1.8"/>
<line x1="771.8" y1="143.8" x2="771.8" y2="405.8" stroke="#d45a5c" stroke-opacity="0.8" stroke-width="1.8"/>
<line x1="776.6" y1="143.8" x2="776.6" y2="405.8" stroke="#d45a5c" stroke-opacity="0.6" stroke-width="1.3"/>
<line x1="791.7" y1="143.8" x2="791.7" y2="405.8" stroke="#d45a5c" stroke-opacity="0.8" stroke-width="1.8"/>
<line x1="796.6" y1="143.8" x2="796.6" y2="405.8" stroke="#d45a5c" stroke-opacity="0.8" stroke-width="1.8"/>
<line x1="801.5" y1="143.8" x2="801.5" y2="405.8" stroke="#d45a5c" stroke-opacity="0.8" stroke-width="1.8"/>
<line x1="807.3" y1="143.8" x2="807.3" y2="405.8" stroke="#d45a5c" stroke-opacity="0.8" stroke-width="1.8"/>
<line x1="823.4" y1="143.8" x2="823.4" y2="405.8" stroke="#d45a5c" stroke-opacity="0.8" stroke-width="1.8"/>
<line x1="828.2" y1="143.8" x2="828.2" y2="405.8" stroke="#d45a5c" stroke-opacity="0.8" stroke-width="1.8"/>
<line x1="833.1" y1="143.8" x2="833.1" y2="405.8" stroke="#d45a5c" stroke-opacity="0.6" stroke-width="1.3"/>
<line x1="838" y1="143.8" x2="838" y2="405.8" stroke="#d45a5c" stroke-opacity="0.8" stroke-width="1.8"/>
<line x1="854.6" y1="143.8" x2="854.6" y2="405.8" stroke="#d45a5c" stroke-opacity="0.8" stroke-width="1.8"/>
<line x1="859.7" y1="143.8" x2="859.7" y2="405.8" stroke="#d45a5c" stroke-opacity="0.6" stroke-width="1.3"/>
<line x1="864.6" y1="143.8" x2="864.6" y2="405.8" stroke="#d45a5c" stroke-opacity="0.8" stroke-width="1.8"/>
<line x1="869.8" y1="143.8" x2="869.8" y2="405.8" stroke="#d45a5c" stroke-opacity="0.8" stroke-width="1.8"/>
<line x1="886.4" y1="143.8" x2="886.4" y2="405.8" stroke="#d45a5c" stroke-opacity="0.8" stroke-width="1.8"/>
<line x1="891.3" y1="143.8" x2="891.3" y2="405.8" stroke="#d45a5c" stroke-opacity="0.8" stroke-width="1.8"/>
<line x1="896.6" y1="143.8" x2="896.6" y2="405.8" stroke="#d45a5c" stroke-opacity="0.8" stroke-width="1.8"/>
<line x1="901.5" y1="143.8" x2="901.5" y2="405.8" stroke="#d45a5c" stroke-opacity="0.6" stroke-width="1.3"/>
<line x1="915.4" y1="142.9" x2="915.4" y2="405.8" stroke="#d45a5c" stroke-opacity="0.8" stroke-width="1.8"/>
<line x1="920.2" y1="142.9" x2="920.2" y2="405.8" stroke="#d45a5c" stroke-opacity="0.8" stroke-width="1.8"/>
<line x1="925.5" y1="142.9" x2="925.5" y2="405.8" stroke="#d45a5c" stroke-opacity="0.8" stroke-width="1.8"/>
<line x1="930.4" y1="142.9" x2="930.4" y2="405.8" stroke="#d45a5c" stroke-opacity="0.6" stroke-width="1.3"/>
<line x1="947.4" y1="142.9" x2="947.4" y2="405.8" stroke="#d45a5c" stroke-opacity="0.8" stroke-width="1.8"/>
<line x1="951.9" y1="142.9" x2="951.9" y2="405.8" stroke="#d45a5c" stroke-opacity="0.8" stroke-width="1.8"/>
<line x1="957.1" y1="142.9" x2="957.1" y2="405.8" stroke="#d45a5c" stroke-opacity="0.6" stroke-width="1.3"/>
<line x1="962" y1="142.9" x2="962" y2="405.8" stroke="#d45a5c" stroke-opacity="0.8" stroke-width="1.8"/>
<ellipse cx="616.2" cy="181" rx="5.3" ry="6.2" fill="#fac850" fill-opacity="0.5"/>
<ellipse cx="616.2" cy="242.45" rx="5.3" ry="6.2" fill="#fac850" fill-opacity="0.5"/>
<ellipse cx="616.2" cy="308.2" rx="5.3" ry="6.2" fill="#fac850" fill-opacity="0.5"/>
<ellipse cx="649.4" cy="181" rx="5.3" ry="6.2" fill="#fac850" fill-opacity="0.5"/>
<ellipse cx="649.4" cy="242.45" rx="5.3" ry="6.2" fill="#fac850" fill-opacity="0.5"/>
<ellipse cx="649.4" cy="308.2" rx="5.3" ry="6.2" fill="#fac850" fill-opacity="0.5"/>
<ellipse cx="675.6" cy="181" rx="5.3" ry="6.2" fill="#fac850" fill-opacity="0.5"/>
<ellipse cx="675.6" cy="242.45" rx="5.3" ry="6.2" fill="#fac850" fill-opacity="0.5"/>
<ellipse cx="675.6" cy="308.2" rx="5.3" ry="6.2" fill="#fac850" fill-opacity="0.5"/>
<ellipse cx="710.3" cy="181" rx="5.3" ry="6.2" fill="#fac850" fill-opacity="0.5"/>
<ellipse cx="710.3" cy="242.45" rx="5.3" ry="6.2" fill="#fac850" fill-opacity="0.5"/>
<ellipse cx="710.3" cy="308.2" rx="5.3" ry="6.2" fill="#fac850" fill-opacity="0.5"/>
<ellipse cx="741.5" cy="181" rx="5.3" ry="6.2" fill="#fac850" fill-opacity="0.5"/>
<ellipse cx="741.5" cy="242.45" rx="5.3" ry="6.2" fill="#fac850" fill-opacity="0.5"/>
<ellipse cx="741.5" cy="308.2" rx="5.3" ry="6.2" fill="#fac850" fill-opacity="0.5"/>
<ellipse cx="772.6" cy="181" rx="5.3" ry="6.2" fill="#fac850" fill-opacity="0.5"/>
<ellipse cx="772.6" cy="242.45" rx="5.3" ry="6.2" fill="#fac850" fill-opacity="0.5"/>
<ellipse cx="772.6" cy="308.2" rx="5.3" ry="6.2" fill="#fac850" fill-opacity="0.5"/>
<ellipse cx="801.1" cy="181" rx="5.3" ry="6.2" fill="#fac850" fill-opacity="0.5"/>
<ellipse cx="801.1" cy="242.45" rx="5.3" ry="6.2" fill="#fac850" fill-opacity="0.5"/>
<ellipse cx="801.1" cy="308.2" rx="5.3" ry="6.2" fill="#fac850" fill-opacity="0.5"/>
<ellipse cx="834.3" cy="181" rx="5.3" ry="6.2" fill="#fac850" fill-opacity="0.5"/>
<ellipse cx="834.3" cy="242.45" rx="5.3" ry="6.2" fill="#fac850" fill-opacity="0.5"/>
<ellipse cx="834.3" cy="308.2" rx="5.3" ry="6.2" fill="#fac850" fill-opacity="0.5"/>
<ellipse cx="860.7" cy="181" rx="5.3" ry="6.2" fill="#fac850" fill-opacity="0.5"/>
<ellipse cx="860.7" cy="242.45" rx="5.3" ry="6.2" fill="#fac850" fill-opacity="0.5"/>
<ellipse cx="860.7" cy="308.2" rx="5.3" ry="6.2" fill="#fac850" fill-opacity="0.5"/>
<ellipse cx="895.6" cy="181" rx="5.3" ry="6.2" fill="#fac850" fill-opacity="0.5"/>
<ellipse cx="895.6" cy="242.45" rx="5.3" ry="6.2" fill="#fac850" fill-opacity="0.5"/>
<ellipse cx="895.6" cy="308.2" rx="5.3" ry="6.2" fill="#fac850" fill-opacity="0.5"/>
<ellipse cx="921.6" cy="181" rx="5.3" ry="6.2" fill="#fac850" fill-opacity="0.5"/>
<ellipse cx="921.6" cy="242.45" rx="5.3" ry="6.2" fill="#fac850" fill-opacity="0.5"/>
<ellipse cx="921.6" cy="308.2" rx="5.3" ry="6.2" fill="#fac850" fill-opacity="0.5"/>
<ellipse cx="956.7" cy="181" rx="5.3" ry="6.2" fill="#fac850" fill-opacity="0.5"/>
<ellipse cx="956.7" cy="242.45" rx="5.3" ry="6.2" fill="#fac850" fill-opacity="0.5"/>
<ellipse cx="956.7" cy="308.2" rx="5.3" ry="6.2" fill="#fac850" fill-opacity="0.5"/>
<g opacity="0.9"><path d="M610.8,332.5 C610.57,333.7 609.73,336.58 609.41,339.7 C609.08,342.82 609.44,346.9 608.84,351.22 C608.24,355.54 606.6,360.82 605.82,365.62 C605.05,370.42 604.37,375.1 604.2,380.02 C604.03,384.94 604.3,391.3 604.78,395.14 C605.26,398.98 606.29,401.5 607.1,403.06 C607.91,404.62 608.82,404.5 609.65,404.5 C610.48,404.5 611.26,404.5 612.09,403.06 C612.92,401.62 614.02,399.46 614.64,395.86 C615.26,392.26 615.74,386.5 615.8,381.46 C615.86,376.42 615.37,370.66 614.99,365.62 C614.6,360.58 614.08,355.54 613.48,351.22 C612.88,346.9 611.83,342.82 611.38,339.7 C610.93,336.58 610.9,333.7 610.8,332.5 Z" fill="url(#flameH)"/><path d="M610.8,332.5 C610.57,333.7 609.73,336.58 609.41,339.7 C609.08,342.82 609.44,346.9 608.84,351.22 C608.24,355.54 606.6,360.82 605.82,365.62 C605.05,370.42 604.37,375.1 604.2,380.02 C604.03,384.94 604.3,391.3 604.78,395.14 C605.26,398.98 606.29,401.5 607.1,403.06 C607.91,404.62 608.82,404.5 609.65,404.5 C610.48,404.5 611.26,404.5 612.09,403.06 C612.92,401.62 614.02,399.46 614.64,395.86 C615.26,392.26 615.74,386.5 615.8,381.46 C615.86,376.42 615.37,370.66 614.99,365.62 C614.6,360.58 614.08,355.54 613.48,351.22 C612.88,346.9 611.83,342.82 611.38,339.7 C610.93,336.58 610.9,333.7 610.8,332.5 Z" fill="url(#flameV)"/><path d="M610.8,332.5 C610.57,333.7 609.73,336.58 609.41,339.7 C609.08,342.82 609.44,346.9 608.84,351.22 C608.24,355.54 606.6,360.82 605.82,365.62 C605.05,370.42 604.37,375.1 604.2,380.02 C604.03,384.94 604.3,391.3 604.78,395.14 C605.26,398.98 606.29,401.5 607.1,403.06 C607.91,404.62 608.82,404.5 609.65,404.5 C610.48,404.5 611.26,404.5 612.09,403.06 C612.92,401.62 614.02,399.46 614.64,395.86 C615.26,392.26 615.74,386.5 615.8,381.46 C615.86,376.42 615.37,370.66 614.99,365.62 C614.6,360.58 614.08,355.54 613.48,351.22 C612.88,346.9 611.83,342.82 611.38,339.7 C610.93,336.58 610.9,333.7 610.8,332.5 Z" fill="url(#flameB)"/></g>
<g opacity="0.6"><path d="M644.5,332.5 C644.32,333.7 643.82,336.58 643.44,339.7 C643.06,342.82 642.81,346.9 642.22,351.22 C641.63,355.54 640.52,360.82 639.93,365.62 C639.35,370.42 638.83,375.1 638.7,380.02 C638.57,384.94 638.77,391.3 639.14,395.14 C639.51,398.98 640.28,401.5 640.9,403.06 C641.52,404.62 642.21,404.5 642.84,404.5 C643.47,404.5 644.05,404.5 644.68,403.06 C645.31,401.62 646.15,399.46 646.62,395.86 C647.09,392.26 647.46,386.5 647.5,381.46 C647.54,376.42 647.18,370.66 646.88,365.62 C646.59,360.58 646.06,355.54 645.74,351.22 C645.42,346.9 645.15,342.82 644.94,339.7 C644.73,336.58 644.57,333.7 644.5,332.5 Z" fill="url(#flameH)"/><path d="M644.5,332.5 C644.32,333.7 643.82,336.58 643.44,339.7 C643.06,342.82 642.81,346.9 642.22,351.22 C641.63,355.54 640.52,360.82 639.93,365.62 C639.35,370.42 638.83,375.1 638.7,380.02 C638.57,384.94 638.77,391.3 639.14,395.14 C639.51,398.98 640.28,401.5 640.9,403.06 C641.52,404.62 642.21,404.5 642.84,404.5 C643.47,404.5 644.05,404.5 644.68,403.06 C645.31,401.62 646.15,399.46 646.62,395.86 C647.09,392.26 647.46,386.5 647.5,381.46 C647.54,376.42 647.18,370.66 646.88,365.62 C646.59,360.58 646.06,355.54 645.74,351.22 C645.42,346.9 645.15,342.82 644.94,339.7 C644.73,336.58 644.57,333.7 644.5,332.5 Z" fill="url(#flameV)"/><path d="M644.5,332.5 C644.32,333.7 643.82,336.58 643.44,339.7 C643.06,342.82 642.81,346.9 642.22,351.22 C641.63,355.54 640.52,360.82 639.93,365.62 C639.35,370.42 638.83,375.1 638.7,380.02 C638.57,384.94 638.77,391.3 639.14,395.14 C639.51,398.98 640.28,401.5 640.9,403.06 C641.52,404.62 642.21,404.5 642.84,404.5 C643.47,404.5 644.05,404.5 644.68,403.06 C645.31,401.62 646.15,399.46 646.62,395.86 C647.09,392.26 647.46,386.5 647.5,381.46 C647.54,376.42 647.18,370.66 646.88,365.62 C646.59,360.58 646.06,355.54 645.74,351.22 C645.42,346.9 645.15,342.82 644.94,339.7 C644.73,336.58 644.57,333.7 644.5,332.5 Z" fill="url(#flameB)"/></g>
<g opacity="0.9"><path d="M678.1,332.5 C677.88,333.7 677.31,336.58 676.78,339.7 C676.25,342.82 675.69,346.9 674.9,351.22 C674.11,355.54 672.77,360.82 672.04,365.62 C671.31,370.42 670.66,375.1 670.5,380.02 C670.34,384.94 670.59,391.3 671.05,395.14 C671.51,398.98 672.48,401.5 673.25,403.06 C674.02,404.62 674.88,404.5 675.67,404.5 C676.46,404.5 677.19,404.5 677.98,403.06 C678.77,401.62 679.81,399.46 680.4,395.86 C680.99,392.26 681.44,386.5 681.5,381.46 C681.56,376.42 681.1,370.66 680.73,365.62 C680.36,360.58 679.65,355.54 679.3,351.22 C678.95,346.9 678.85,342.82 678.65,339.7 C678.45,336.58 678.19,333.7 678.1,332.5 Z" fill="url(#flameH)"/><path d="M678.1,332.5 C677.88,333.7 677.31,336.58 676.78,339.7 C676.25,342.82 675.69,346.9 674.9,351.22 C674.11,355.54 672.77,360.82 672.04,365.62 C671.31,370.42 670.66,375.1 670.5,380.02 C670.34,384.94 670.59,391.3 671.05,395.14 C671.51,398.98 672.48,401.5 673.25,403.06 C674.02,404.62 674.88,404.5 675.67,404.5 C676.46,404.5 677.19,404.5 677.98,403.06 C678.77,401.62 679.81,399.46 680.4,395.86 C680.99,392.26 681.44,386.5 681.5,381.46 C681.56,376.42 681.1,370.66 680.73,365.62 C680.36,360.58 679.65,355.54 679.3,351.22 C678.95,346.9 678.85,342.82 678.65,339.7 C678.45,336.58 678.19,333.7 678.1,332.5 Z" fill="url(#flameV)"/><path d="M678.1,332.5 C677.88,333.7 677.31,336.58 676.78,339.7 C676.25,342.82 675.69,346.9 674.9,351.22 C674.11,355.54 672.77,360.82 672.04,365.62 C671.31,370.42 670.66,375.1 670.5,380.02 C670.34,384.94 670.59,391.3 671.05,395.14 C671.51,398.98 672.48,401.5 673.25,403.06 C674.02,404.62 674.88,404.5 675.67,404.5 C676.46,404.5 677.19,404.5 677.98,403.06 C678.77,401.62 679.81,399.46 680.4,395.86 C680.99,392.26 681.44,386.5 681.5,381.46 C681.56,376.42 681.1,370.66 680.73,365.62 C680.36,360.58 679.65,355.54 679.3,351.22 C678.95,346.9 678.85,342.82 678.65,339.7 C678.45,336.58 678.19,333.7 678.1,332.5 Z" fill="url(#flameB)"/></g>
<g opacity="0.9"><path d="M710.5,332.5 C710.28,333.7 709.68,336.58 709.19,339.7 C708.7,342.82 708.3,346.9 707.56,351.22 C706.82,355.54 705.45,360.82 704.73,365.62 C704,370.42 703.36,375.1 703.2,380.02 C703.04,384.94 703.29,391.3 703.75,395.14 C704.2,398.98 705.16,401.5 705.93,403.06 C706.69,404.62 707.54,404.5 708.32,404.5 C709.1,404.5 709.83,404.5 710.61,403.06 C711.39,401.62 712.43,399.46 713.01,395.86 C713.59,392.26 714.05,386.5 714.1,381.46 C714.15,376.42 713.7,370.66 713.34,365.62 C712.97,360.58 712.3,355.54 711.92,351.22 C711.54,346.9 711.28,342.82 711.04,339.7 C710.81,336.58 710.59,333.7 710.5,332.5 Z" fill="url(#flameH)"/><path d="M710.5,332.5 C710.28,333.7 709.68,336.58 709.19,339.7 C708.7,342.82 708.3,346.9 707.56,351.22 C706.82,355.54 705.45,360.82 704.73,365.62 C704,370.42 703.36,375.1 703.2,380.02 C703.04,384.94 703.29,391.3 703.75,395.14 C704.2,398.98 705.16,401.5 705.93,403.06 C706.69,404.62 707.54,404.5 708.32,404.5 C709.1,404.5 709.83,404.5 710.61,403.06 C711.39,401.62 712.43,399.46 713.01,395.86 C713.59,392.26 714.05,386.5 714.1,381.46 C714.15,376.42 713.7,370.66 713.34,365.62 C712.97,360.58 712.3,355.54 711.92,351.22 C711.54,346.9 711.28,342.82 711.04,339.7 C710.81,336.58 710.59,333.7 710.5,332.5 Z" fill="url(#flameV)"/><path d="M710.5,332.5 C710.28,333.7 709.68,336.58 709.19,339.7 C708.7,342.82 708.3,346.9 707.56,351.22 C706.82,355.54 705.45,360.82 704.73,365.62 C704,370.42 703.36,375.1 703.2,380.02 C703.04,384.94 703.29,391.3 703.75,395.14 C704.2,398.98 705.16,401.5 705.93,403.06 C706.69,404.62 707.54,404.5 708.32,404.5 C709.1,404.5 709.83,404.5 710.61,403.06 C711.39,401.62 712.43,399.46 713.01,395.86 C713.59,392.26 714.05,386.5 714.1,381.46 C714.15,376.42 713.7,370.66 713.34,365.62 C712.97,360.58 712.3,355.54 711.92,351.22 C711.54,346.9 711.28,342.82 711.04,339.7 C710.81,336.58 710.59,333.7 710.5,332.5 Z" fill="url(#flameB)"/></g>
<g opacity="0.9"><path d="M737,332.5 C736.78,333.7 736.21,336.58 735.68,339.7 C735.15,342.82 734.59,346.9 733.8,351.22 C733.01,355.54 731.67,360.82 730.94,365.62 C730.21,370.42 729.56,375.1 729.4,380.02 C729.24,384.94 729.49,391.3 729.95,395.14 C730.41,398.98 731.38,401.5 732.15,403.06 C732.92,404.62 733.78,404.5 734.57,404.5 C735.36,404.5 736.09,404.5 736.88,403.06 C737.67,401.62 738.71,399.46 739.3,395.86 C739.89,392.26 740.35,386.5 740.4,381.46 C740.45,376.42 740,370.66 739.63,365.62 C739.26,360.58 738.55,355.54 738.2,351.22 C737.85,346.9 737.75,342.82 737.55,339.7 C737.35,336.58 737.09,333.7 737,332.5 Z" fill="url(#flameH)"/><path d="M737,332.5 C736.78,333.7 736.21,336.58 735.68,339.7 C735.15,342.82 734.59,346.9 733.8,351.22 C733.01,355.54 731.67,360.82 730.94,365.62 C730.21,370.42 729.56,375.1 729.4,380.02 C729.24,384.94 729.49,391.3 729.95,395.14 C730.41,398.98 731.38,401.5 732.15,403.06 C732.92,404.62 733.78,404.5 734.57,404.5 C735.36,404.5 736.09,404.5 736.88,403.06 C737.67,401.62 738.71,399.46 739.3,395.86 C739.89,392.26 740.35,386.5 740.4,381.46 C740.45,376.42 740,370.66 739.63,365.62 C739.26,360.58 738.55,355.54 738.2,351.22 C737.85,346.9 737.75,342.82 737.55,339.7 C737.35,336.58 737.09,333.7 737,332.5 Z" fill="url(#flameV)"/><path d="M737,332.5 C736.78,333.7 736.21,336.58 735.68,339.7 C735.15,342.82 734.59,346.9 733.8,351.22 C733.01,355.54 731.67,360.82 730.94,365.62 C730.21,370.42 729.56,375.1 729.4,380.02 C729.24,384.94 729.49,391.3 729.95,395.14 C730.41,398.98 731.38,401.5 732.15,403.06 C732.92,404.62 733.78,404.5 734.57,404.5 C735.36,404.5 736.09,404.5 736.88,403.06 C737.67,401.62 738.71,399.46 739.3,395.86 C739.89,392.26 740.35,386.5 740.4,381.46 C740.45,376.42 740,370.66 739.63,365.62 C739.26,360.58 738.55,355.54 738.2,351.22 C737.85,346.9 737.75,342.82 737.55,339.7 C737.35,336.58 737.09,333.7 737,332.5 Z" fill="url(#flameB)"/></g>
<g opacity="0.9"><path d="M772,332.5 C771.76,333.7 771.21,336.58 770.56,339.7 C769.91,342.82 769.03,346.9 768.1,351.22 C767.17,355.54 765.78,360.82 764.98,365.62 C764.18,370.42 763.48,375.1 763.3,380.02 C763.12,384.94 763.4,391.3 763.9,395.14 C764.4,398.98 765.46,401.5 766.3,403.06 C767.14,404.62 768.08,404.5 768.94,404.5 C769.8,404.5 770.6,404.5 771.46,403.06 C772.32,401.62 773.46,399.46 774.1,395.86 C774.74,392.26 775.24,386.5 775.3,381.46 C775.36,376.42 774.86,370.66 774.46,365.62 C774.06,360.58 773.21,355.54 772.9,351.22 C772.59,346.9 772.75,342.82 772.6,339.7 C772.45,336.58 772.1,333.7 772,332.5 Z" fill="url(#flameH)"/><path d="M772,332.5 C771.76,333.7 771.21,336.58 770.56,339.7 C769.91,342.82 769.03,346.9 768.1,351.22 C767.17,355.54 765.78,360.82 764.98,365.62 C764.18,370.42 763.48,375.1 763.3,380.02 C763.12,384.94 763.4,391.3 763.9,395.14 C764.4,398.98 765.46,401.5 766.3,403.06 C767.14,404.62 768.08,404.5 768.94,404.5 C769.8,404.5 770.6,404.5 771.46,403.06 C772.32,401.62 773.46,399.46 774.1,395.86 C774.74,392.26 775.24,386.5 775.3,381.46 C775.36,376.42 774.86,370.66 774.46,365.62 C774.06,360.58 773.21,355.54 772.9,351.22 C772.59,346.9 772.75,342.82 772.6,339.7 C772.45,336.58 772.1,333.7 772,332.5 Z" fill="url(#flameV)"/><path d="M772,332.5 C771.76,333.7 771.21,336.58 770.56,339.7 C769.91,342.82 769.03,346.9 768.1,351.22 C767.17,355.54 765.78,360.82 764.98,365.62 C764.18,370.42 763.48,375.1 763.3,380.02 C763.12,384.94 763.4,391.3 763.9,395.14 C764.4,398.98 765.46,401.5 766.3,403.06 C767.14,404.62 768.08,404.5 768.94,404.5 C769.8,404.5 770.6,404.5 771.46,403.06 C772.32,401.62 773.46,399.46 774.1,395.86 C774.74,392.26 775.24,386.5 775.3,381.46 C775.36,376.42 774.86,370.66 774.46,365.62 C774.06,360.58 773.21,355.54 772.9,351.22 C772.59,346.9 772.75,342.82 772.6,339.7 C772.45,336.58 772.1,333.7 772,332.5 Z" fill="url(#flameB)"/></g>
<g opacity="0.9"><path d="M801.9,332.5 C801.71,333.7 801.27,336.58 800.75,339.7 C800.22,342.82 799.49,346.9 798.74,351.22 C797.99,355.54 796.88,360.82 796.24,365.62 C795.6,370.42 795.04,375.1 794.9,380.02 C794.76,384.94 794.98,391.3 795.38,395.14 C795.78,398.98 796.63,401.5 797.3,403.06 C797.97,404.62 798.72,404.5 799.41,404.5 C800.1,404.5 800.74,404.5 801.43,403.06 C802.12,401.62 803.03,399.46 803.54,395.86 C804.05,392.26 804.45,386.5 804.5,381.46 C804.55,376.42 804.15,370.66 803.83,365.62 C803.51,360.58 802.82,355.54 802.58,351.22 C802.34,346.9 802.49,342.82 802.38,339.7 C802.27,336.58 801.98,333.7 801.9,332.5 Z" fill="url(#flameH)"/><path d="M801.9,332.5 C801.71,333.7 801.27,336.58 800.75,339.7 C800.22,342.82 799.49,346.9 798.74,351.22 C797.99,355.54 796.88,360.82 796.24,365.62 C795.6,370.42 795.04,375.1 794.9,380.02 C794.76,384.94 794.98,391.3 795.38,395.14 C795.78,398.98 796.63,401.5 797.3,403.06 C797.97,404.62 798.72,404.5 799.41,404.5 C800.1,404.5 800.74,404.5 801.43,403.06 C802.12,401.62 803.03,399.46 803.54,395.86 C804.05,392.26 804.45,386.5 804.5,381.46 C804.55,376.42 804.15,370.66 803.83,365.62 C803.51,360.58 802.82,355.54 802.58,351.22 C802.34,346.9 802.49,342.82 802.38,339.7 C802.27,336.58 801.98,333.7 801.9,332.5 Z" fill="url(#flameV)"/><path d="M801.9,332.5 C801.71,333.7 801.27,336.58 800.75,339.7 C800.22,342.82 799.49,346.9 798.74,351.22 C797.99,355.54 796.88,360.82 796.24,365.62 C795.6,370.42 795.04,375.1 794.9,380.02 C794.76,384.94 794.98,391.3 795.38,395.14 C795.78,398.98 796.63,401.5 797.3,403.06 C797.97,404.62 798.72,404.5 799.41,404.5 C800.1,404.5 800.74,404.5 801.43,403.06 C802.12,401.62 803.03,399.46 803.54,395.86 C804.05,392.26 804.45,386.5 804.5,381.46 C804.55,376.42 804.15,370.66 803.83,365.62 C803.51,360.58 802.82,355.54 802.58,351.22 C802.34,346.9 802.49,342.82 802.38,339.7 C802.27,336.58 801.98,333.7 801.9,332.5 Z" fill="url(#flameB)"/></g>
<g opacity="0.9"><path d="M834.5,332.5 C834.29,333.7 833.83,336.58 833.26,339.7 C832.7,342.82 831.92,346.9 831.12,351.22 C830.32,355.54 829.13,360.82 828.44,365.62 C827.76,370.42 827.15,375.1 827,380.02 C826.85,384.94 827.09,391.3 827.51,395.14 C827.94,398.98 828.85,401.5 829.58,403.06 C830.3,404.62 831.1,404.5 831.84,404.5 C832.58,404.5 833.27,404.5 834,403.06 C834.74,401.62 835.72,399.46 836.27,395.86 C836.82,392.26 837.25,386.5 837.3,381.46 C837.35,376.42 836.92,370.66 836.58,365.62 C836.24,360.58 835.5,355.54 835.24,351.22 C834.98,346.9 835.14,342.82 835.01,339.7 C834.89,336.58 834.59,333.7 834.5,332.5 Z" fill="url(#flameH)"/><path d="M834.5,332.5 C834.29,333.7 833.83,336.58 833.26,339.7 C832.7,342.82 831.92,346.9 831.12,351.22 C830.32,355.54 829.13,360.82 828.44,365.62 C827.76,370.42 827.15,375.1 827,380.02 C826.85,384.94 827.09,391.3 827.51,395.14 C827.94,398.98 828.85,401.5 829.58,403.06 C830.3,404.62 831.1,404.5 831.84,404.5 C832.58,404.5 833.27,404.5 834,403.06 C834.74,401.62 835.72,399.46 836.27,395.86 C836.82,392.26 837.25,386.5 837.3,381.46 C837.35,376.42 836.92,370.66 836.58,365.62 C836.24,360.58 835.5,355.54 835.24,351.22 C834.98,346.9 835.14,342.82 835.01,339.7 C834.89,336.58 834.59,333.7 834.5,332.5 Z" fill="url(#flameV)"/><path d="M834.5,332.5 C834.29,333.7 833.83,336.58 833.26,339.7 C832.7,342.82 831.92,346.9 831.12,351.22 C830.32,355.54 829.13,360.82 828.44,365.62 C827.76,370.42 827.15,375.1 827,380.02 C826.85,384.94 827.09,391.3 827.51,395.14 C827.94,398.98 828.85,401.5 829.58,403.06 C830.3,404.62 831.1,404.5 831.84,404.5 C832.58,404.5 833.27,404.5 834,403.06 C834.74,401.62 835.72,399.46 836.27,395.86 C836.82,392.26 837.25,386.5 837.3,381.46 C837.35,376.42 836.92,370.66 836.58,365.62 C836.24,360.58 835.5,355.54 835.24,351.22 C834.98,346.9 835.14,342.82 835.01,339.7 C834.89,336.58 834.59,333.7 834.5,332.5 Z" fill="url(#flameB)"/></g>
<g opacity="0.9"><path d="M866.5,332.5 C866.28,333.7 865.77,336.58 865.19,339.7 C864.62,342.82 863.89,346.9 863.06,351.22 C862.23,355.54 860.95,360.82 860.23,365.62 C859.5,370.42 858.86,375.1 858.7,380.02 C858.54,384.94 858.79,391.3 859.25,395.14 C859.7,398.98 860.66,401.5 861.43,403.06 C862.19,404.62 863.04,404.5 863.82,404.5 C864.6,404.5 865.33,404.5 866.11,403.06 C866.89,401.62 867.93,399.46 868.51,395.86 C869.09,392.26 869.55,386.5 869.6,381.46 C869.65,376.42 869.2,370.66 868.84,365.62 C868.47,360.58 867.72,355.54 867.42,351.22 C867.12,346.9 867.2,342.82 867.04,339.7 C866.89,336.58 866.59,333.7 866.5,332.5 Z" fill="url(#flameH)"/><path d="M866.5,332.5 C866.28,333.7 865.77,336.58 865.19,339.7 C864.62,342.82 863.89,346.9 863.06,351.22 C862.23,355.54 860.95,360.82 860.23,365.62 C859.5,370.42 858.86,375.1 858.7,380.02 C858.54,384.94 858.79,391.3 859.25,395.14 C859.7,398.98 860.66,401.5 861.43,403.06 C862.19,404.62 863.04,404.5 863.82,404.5 C864.6,404.5 865.33,404.5 866.11,403.06 C866.89,401.62 867.93,399.46 868.51,395.86 C869.09,392.26 869.55,386.5 869.6,381.46 C869.65,376.42 869.2,370.66 868.84,365.62 C868.47,360.58 867.72,355.54 867.42,351.22 C867.12,346.9 867.2,342.82 867.04,339.7 C866.89,336.58 866.59,333.7 866.5,332.5 Z" fill="url(#flameV)"/><path d="M866.5,332.5 C866.28,333.7 865.77,336.58 865.19,339.7 C864.62,342.82 863.89,346.9 863.06,351.22 C862.23,355.54 860.95,360.82 860.23,365.62 C859.5,370.42 858.86,375.1 858.7,380.02 C858.54,384.94 858.79,391.3 859.25,395.14 C859.7,398.98 860.66,401.5 861.43,403.06 C862.19,404.62 863.04,404.5 863.82,404.5 C864.6,404.5 865.33,404.5 866.11,403.06 C866.89,401.62 867.93,399.46 868.51,395.86 C869.09,392.26 869.55,386.5 869.6,381.46 C869.65,376.42 869.2,370.66 868.84,365.62 C868.47,360.58 867.72,355.54 867.42,351.22 C867.12,346.9 867.2,342.82 867.04,339.7 C866.89,336.58 866.59,333.7 866.5,332.5 Z" fill="url(#flameB)"/></g>
<g opacity="0.9"><path d="M898.8,332.5 C898.6,333.7 898.19,336.58 897.62,339.7 C897.06,342.82 896.21,346.9 895.42,351.22 C894.63,355.54 893.53,360.82 892.87,365.62 C892.22,370.42 891.65,375.1 891.5,380.02 C891.35,384.94 891.58,391.3 891.99,395.14 C892.4,398.98 893.26,401.5 893.95,403.06 C894.64,404.62 895.4,404.5 896.11,404.5 C896.81,404.5 897.46,404.5 898.16,403.06 C898.87,401.62 899.8,399.46 900.32,395.86 C900.84,392.26 901.25,386.5 901.3,381.46 C901.35,376.42 900.94,370.66 900.61,365.62 C900.29,360.58 899.56,355.54 899.34,351.22 C899.12,346.9 899.38,342.82 899.29,339.7 C899.2,336.58 898.88,333.7 898.8,332.5 Z" fill="url(#flameH)"/><path d="M898.8,332.5 C898.6,333.7 898.19,336.58 897.62,339.7 C897.06,342.82 896.21,346.9 895.42,351.22 C894.63,355.54 893.53,360.82 892.87,365.62 C892.22,370.42 891.65,375.1 891.5,380.02 C891.35,384.94 891.58,391.3 891.99,395.14 C892.4,398.98 893.26,401.5 893.95,403.06 C894.64,404.62 895.4,404.5 896.11,404.5 C896.81,404.5 897.46,404.5 898.16,403.06 C898.87,401.62 899.8,399.46 900.32,395.86 C900.84,392.26 901.25,386.5 901.3,381.46 C901.35,376.42 900.94,370.66 900.61,365.62 C900.29,360.58 899.56,355.54 899.34,351.22 C899.12,346.9 899.38,342.82 899.29,339.7 C899.2,336.58 898.88,333.7 898.8,332.5 Z" fill="url(#flameV)"/><path d="M898.8,332.5 C898.6,333.7 898.19,336.58 897.62,339.7 C897.06,342.82 896.21,346.9 895.42,351.22 C894.63,355.54 893.53,360.82 892.87,365.62 C892.22,370.42 891.65,375.1 891.5,380.02 C891.35,384.94 891.58,391.3 891.99,395.14 C892.4,398.98 893.26,401.5 893.95,403.06 C894.64,404.62 895.4,404.5 896.11,404.5 C896.81,404.5 897.46,404.5 898.16,403.06 C898.87,401.62 899.8,399.46 900.32,395.86 C900.84,392.26 901.25,386.5 901.3,381.46 C901.35,376.42 900.94,370.66 900.61,365.62 C900.29,360.58 899.56,355.54 899.34,351.22 C899.12,346.9 899.38,342.82 899.29,339.7 C899.2,336.58 898.88,333.7 898.8,332.5 Z" fill="url(#flameB)"/></g>
<g opacity="0.9"><path d="M926.8,332.5 C926.58,333.7 926.1,336.58 925.49,339.7 C924.89,342.82 924.02,346.9 923.16,351.22 C922.3,355.54 921.05,360.82 920.33,365.62 C919.6,370.42 918.96,375.1 918.8,380.02 C918.64,384.94 918.89,391.3 919.34,395.14 C919.8,398.98 920.76,401.5 921.52,403.06 C922.29,404.62 923.14,404.5 923.92,404.5 C924.7,404.5 925.43,404.5 926.21,403.06 C926.99,401.62 928.03,399.46 928.61,395.86 C929.19,392.26 929.65,386.5 929.7,381.46 C929.75,376.42 929.3,370.66 928.94,365.62 C928.57,360.58 927.79,355.54 927.52,351.22 C927.25,346.9 927.46,342.82 927.34,339.7 C927.22,336.58 926.89,333.7 926.8,332.5 Z" fill="url(#flameH)"/><path d="M926.8,332.5 C926.58,333.7 926.1,336.58 925.49,339.7 C924.89,342.82 924.02,346.9 923.16,351.22 C922.3,355.54 921.05,360.82 920.33,365.62 C919.6,370.42 918.96,375.1 918.8,380.02 C918.64,384.94 918.89,391.3 919.34,395.14 C919.8,398.98 920.76,401.5 921.52,403.06 C922.29,404.62 923.14,404.5 923.92,404.5 C924.7,404.5 925.43,404.5 926.21,403.06 C926.99,401.62 928.03,399.46 928.61,395.86 C929.19,392.26 929.65,386.5 929.7,381.46 C929.75,376.42 929.3,370.66 928.94,365.62 C928.57,360.58 927.79,355.54 927.52,351.22 C927.25,346.9 927.46,342.82 927.34,339.7 C927.22,336.58 926.89,333.7 926.8,332.5 Z" fill="url(#flameV)"/><path d="M926.8,332.5 C926.58,333.7 926.1,336.58 925.49,339.7 C924.89,342.82 924.02,346.9 923.16,351.22 C922.3,355.54 921.05,360.82 920.33,365.62 C919.6,370.42 918.96,375.1 918.8,380.02 C918.64,384.94 918.89,391.3 919.34,395.14 C919.8,398.98 920.76,401.5 921.52,403.06 C922.29,404.62 923.14,404.5 923.92,404.5 C924.7,404.5 925.43,404.5 926.21,403.06 C926.99,401.62 928.03,399.46 928.61,395.86 C929.19,392.26 929.65,386.5 929.7,381.46 C929.75,376.42 929.3,370.66 928.94,365.62 C928.57,360.58 927.79,355.54 927.52,351.22 C927.25,346.9 927.46,342.82 927.34,339.7 C927.22,336.58 926.89,333.7 926.8,332.5 Z" fill="url(#flameB)"/></g>
<g opacity="0.6"><path d="M958.8,332.5 C958.58,333.7 958.15,336.58 957.49,339.7 C956.84,342.82 955.77,346.9 954.86,351.22 C953.95,355.54 952.75,360.82 952.03,365.62 C951.3,370.42 950.66,375.1 950.5,380.02 C950.34,384.94 950.59,391.3 951.04,395.14 C951.5,398.98 952.46,401.5 953.23,403.06 C953.99,404.62 954.84,404.5 955.62,404.5 C956.4,404.5 957.13,404.5 957.91,403.06 C958.69,401.62 959.73,399.46 960.31,395.86 C960.89,392.26 961.35,386.5 961.4,381.46 C961.45,376.42 961,370.66 960.64,365.62 C960.27,360.58 959.44,355.54 959.22,351.22 C959,346.9 959.41,342.82 959.34,339.7 C959.27,336.58 958.89,333.7 958.8,332.5 Z" fill="url(#flameH)"/><path d="M958.8,332.5 C958.58,333.7 958.15,336.58 957.49,339.7 C956.84,342.82 955.77,346.9 954.86,351.22 C953.95,355.54 952.75,360.82 952.03,365.62 C951.3,370.42 950.66,375.1 950.5,380.02 C950.34,384.94 950.59,391.3 951.04,395.14 C951.5,398.98 952.46,401.5 953.23,403.06 C953.99,404.62 954.84,404.5 955.62,404.5 C956.4,404.5 957.13,404.5 957.91,403.06 C958.69,401.62 959.73,399.46 960.31,395.86 C960.89,392.26 961.35,386.5 961.4,381.46 C961.45,376.42 961,370.66 960.64,365.62 C960.27,360.58 959.44,355.54 959.22,351.22 C959,346.9 959.41,342.82 959.34,339.7 C959.27,336.58 958.89,333.7 958.8,332.5 Z" fill="url(#flameV)"/><path d="M958.8,332.5 C958.58,333.7 958.15,336.58 957.49,339.7 C956.84,342.82 955.77,346.9 954.86,351.22 C953.95,355.54 952.75,360.82 952.03,365.62 C951.3,370.42 950.66,375.1 950.5,380.02 C950.34,384.94 950.59,391.3 951.04,395.14 C951.5,398.98 952.46,401.5 953.23,403.06 C953.99,404.62 954.84,404.5 955.62,404.5 C956.4,404.5 957.13,404.5 957.91,403.06 C958.69,401.62 959.73,399.46 960.31,395.86 C960.89,392.26 961.35,386.5 961.4,381.46 C961.45,376.42 961,370.66 960.64,365.62 C960.27,360.58 959.44,355.54 959.22,351.22 C959,346.9 959.41,342.82 959.34,339.7 C959.27,336.58 958.89,333.7 958.8,332.5 Z" fill="url(#flameB)"/></g>
<line x1="600.7" y1="90.2" x2="972.9" y2="90.2" stroke="#de7070" stroke-width="1.7"/>
<line x1="602.6" y1="94.7" x2="974.6" y2="94.7" stroke="#de7070" stroke-width="1.7"/>
<line x1="599.7" y1="100.1" x2="971.8" y2="100.1" stroke="#de7070" stroke-width="1.7"/>
<line x1="600.7" y1="112.8" x2="972.9" y2="112.8" stroke="#de7070" stroke-width="1.7"/>
<line x1="602.6" y1="117.5" x2="974.6" y2="117.5" stroke="#de7070" stroke-width="1.7"/>
<line x1="599.7" y1="122.9" x2="971.8" y2="122.9" stroke="#de7070" stroke-width="1.7"/>
<rect x="627.93" y="168.82" width="7.15" height="11.55" rx="2" fill="#fff" stroke="#7e7e7e" stroke-width="1.25"/>
<rect x="627.93" y="227.62" width="7.15" height="12.15" rx="2" fill="#fff" stroke="#7e7e7e" stroke-width="1.25"/>
<rect x="627.93" y="367.62" width="7.35" height="12.65" rx="2" fill="#fff" stroke="#7e7e7e" stroke-width="1.25"/>
<rect x="689.88" y="168.82" width="7.15" height="11.55" rx="2" fill="#fff" stroke="#7e7e7e" stroke-width="1.25"/>
<rect x="689.88" y="227.62" width="7.15" height="12.15" rx="2" fill="#fff" stroke="#7e7e7e" stroke-width="1.25"/>
<rect x="689.88" y="367.62" width="7.35" height="12.65" rx="2" fill="#fff" stroke="#7e7e7e" stroke-width="1.25"/>
<rect x="751.83" y="168.82" width="7.15" height="11.55" rx="2" fill="#fff" stroke="#7e7e7e" stroke-width="1.25"/>
<rect x="751.83" y="227.62" width="7.15" height="12.15" rx="2" fill="#fff" stroke="#7e7e7e" stroke-width="1.25"/>
<rect x="751.83" y="367.62" width="7.35" height="12.65" rx="2" fill="#fff" stroke="#7e7e7e" stroke-width="1.25"/>
<rect x="813.78" y="168.82" width="7.15" height="11.55" rx="2" fill="#fff" stroke="#7e7e7e" stroke-width="1.25"/>
<rect x="813.78" y="227.62" width="7.15" height="12.15" rx="2" fill="#fff" stroke="#7e7e7e" stroke-width="1.25"/>
<rect x="813.78" y="367.62" width="7.35" height="12.65" rx="2" fill="#fff" stroke="#7e7e7e" stroke-width="1.25"/>
<rect x="875.73" y="168.82" width="7.15" height="11.55" rx="2" fill="#fff" stroke="#7e7e7e" stroke-width="1.25"/>
<rect x="875.73" y="227.62" width="7.15" height="12.15" rx="2" fill="#fff" stroke="#7e7e7e" stroke-width="1.25"/>
<rect x="875.73" y="367.62" width="7.35" height="12.65" rx="2" fill="#fff" stroke="#7e7e7e" stroke-width="1.25"/>
<rect x="937.68" y="168.82" width="7.15" height="11.55" rx="2" fill="#fff" stroke="#7e7e7e" stroke-width="1.25"/>
<rect x="937.68" y="227.62" width="7.15" height="12.15" rx="2" fill="#fff" stroke="#7e7e7e" stroke-width="1.25"/>
<rect x="937.68" y="367.62" width="7.35" height="12.65" rx="2" fill="#fff" stroke="#7e7e7e" stroke-width="1.25"/>
<line x1="594" y1="291.7" x2="936" y2="291.7" stroke="#aaaaaa" stroke-width="1.8"/>
<rect x="625.3" y="289.5" width="4.9" height="5.2" rx="0.8" fill="#7d7d7d"/>
<rect x="687.2" y="289.5" width="4.8" height="5.2" rx="0.8" fill="#7d7d7d"/>
<rect x="747.3" y="289.5" width="4.9" height="5.2" rx="0.8" fill="#7d7d7d"/>
<rect x="810.3" y="289.5" width="4.9" height="5.2" rx="0.8" fill="#7d7d7d"/>
<rect x="870.8" y="289.5" width="4.9" height="5.2" rx="0.8" fill="#7d7d7d"/>
<rect x="933.3" y="289.5" width="4.5" height="5.2" rx="0.8" fill="#7d7d7d"/>
<line x1="595.95" y1="72.9" x2="596.05" y2="410.4" stroke="#716c6c" stroke-width="3.4"/>
<line x1="596.4" y1="72.9" x2="979.1" y2="74.05" stroke="#716c6c" stroke-width="3.3"/>
<line x1="977.5" y1="72.4" x2="979.45" y2="410.8" stroke="#716c6c" stroke-width="3.1"/>
<line x1="596.1" y1="409.9" x2="978.8" y2="411.2" stroke="#716c6c" stroke-width="3.3"/>
<line x1="596" y1="137.6" x2="978" y2="138.8" stroke="#716c6c" stroke-width="3.3"/>
<line x1="591.6" y1="165" x2="591.6" y2="292" stroke="#b0b0b0" stroke-width="2.6"/>
<rect x="590.2" y="162.4" width="4.5" height="5.2" rx="0.8" fill="#7d7d7d"/>
<rect x="590" y="249.1" width="4.4" height="5.7" rx="0.8" fill="#7d7d7d"/>
<rect x="590.2" y="290" width="4.2" height="4.7" rx="0.8" fill="#7d7d7d"/>
<line x1="578.8" y1="251.4" x2="590" y2="251.4" stroke="#a0a0a0" stroke-width="1.5"/>
<rect x="568.8" y="248.8" width="9.4" height="22.8" rx="2.4" fill="#dcdcdc" stroke="#4c545c" stroke-width="1.4"/>
<line x1="595" y1="174.9" x2="979" y2="176" stroke="#12ad4c" stroke-width="2.0"/>
<line x1="595" y1="302.5" x2="979.5" y2="302.5" stroke="#12ad4c" stroke-width="2.0"/>
<rect x="627.75" y="297.65" width="7.1" height="12.4" rx="2" fill="#fff" stroke="#707070" stroke-width="1.1"/>
<ellipse cx="631.2" cy="303.2" rx="3.45" ry="4.2" fill="#2e8ffa" stroke="#1d3558" stroke-width="0.8"/>
<rect x="689.65" y="297.65" width="7.3" height="12.4" rx="2" fill="#fff" stroke="#707070" stroke-width="1.1"/>
<ellipse cx="693.1" cy="303.2" rx="3.45" ry="4.2" fill="#2e8ffa" stroke="#1d3558" stroke-width="0.8"/>
<rect x="750.85" y="297.65" width="7.3" height="12.4" rx="2" fill="#fff" stroke="#707070" stroke-width="1.1"/>
<ellipse cx="754.3" cy="303.2" rx="3.45" ry="4.2" fill="#2e8ffa" stroke="#1d3558" stroke-width="0.8"/>
<rect x="811.85" y="297.65" width="7.4" height="12.4" rx="2" fill="#fff" stroke="#707070" stroke-width="1.1"/>
<ellipse cx="815.7" cy="303.2" rx="3.45" ry="4.2" fill="#2e8ffa" stroke="#1d3558" stroke-width="0.8"/>
<rect x="874.85" y="297.65" width="7.2" height="12.4" rx="2" fill="#fff" stroke="#707070" stroke-width="1.1"/>
<ellipse cx="878.3" cy="303.2" rx="3.45" ry="4.2" fill="#2e8ffa" stroke="#1d3558" stroke-width="0.8"/>
<rect x="936.85" y="297.65" width="7.2" height="12.4" rx="2" fill="#fff" stroke="#707070" stroke-width="1.1"/>
<ellipse cx="940.3" cy="303.2" rx="3.45" ry="4.2" fill="#2e8ffa" stroke="#1d3558" stroke-width="0.8"/>
<rect x="584.8" y="171.6" width="6.7" height="6.4" fill="#2e8ffa" stroke="#1d3558" stroke-width="0.8"/><rect x="591.5" y="170.2" width="3.2" height="9.8" fill="#2e8ffa" stroke="#1d3558" stroke-width="0.8"/>
<rect x="584.8" y="300.2" width="7.2" height="6.4" fill="#2e8ffa" stroke="#1d3558" stroke-width="0.8"/><rect x="592" y="298.4" width="2.9" height="10" fill="#2e8ffa" stroke="#1d3558" stroke-width="0.8"/>
<rect x="982.6" y="173.6" width="3.8" height="6.2" fill="#2e8ffa" stroke="#1d3558" stroke-width="0.8"/><rect x="978.8" y="170.6" width="3.8" height="10" fill="#2e8ffa" stroke="#1d3558" stroke-width="0.8"/>
<rect x="982.7" y="301.2" width="4.6" height="6.4" fill="#2e8ffa" stroke="#1d3558" stroke-width="0.8"/><rect x="979.4" y="299.2" width="3.3" height="9.2" fill="#2e8ffa" stroke="#1d3558" stroke-width="0.8"/></g>
<text x="79.20" y="42.00" font-family="Liberation Sans, sans-serif" font-size="28.6" fill="#1e2b3b" textLength="105.00" lengthAdjust="spacingAndGlyphs">Monitor</text>
<text x="190.80" y="42.00" font-family="Liberation Sans, sans-serif" font-size="28.6" fill="#1e2b3b" textLength="106.70" lengthAdjust="spacingAndGlyphs">Multiple</text>
<text x="304.70" y="42.00" font-family="Liberation Sans, sans-serif" font-size="28.6" fill="#1e2b3b" textLength="99.40" lengthAdjust="spacingAndGlyphs">Heaters</text>
<text x="569.60" y="41.90" font-family="Liberation Sans, sans-serif" font-size="28.6" fill="#1e2b3b" textLength="61.90" lengthAdjust="spacingAndGlyphs">High</text>
<text x="640.00" y="41.90" font-family="Liberation Sans, sans-serif" font-size="28.6" fill="#1e2b3b" textLength="135.60" lengthAdjust="spacingAndGlyphs">Resolution</text>
<text x="782.60" y="41.90" font-family="Liberation Sans, sans-serif" font-size="28.6" fill="#1e2b3b" textLength="66.50" lengthAdjust="spacingAndGlyphs">Zone</text>
<text x="855.50" y="41.90" font-family="Liberation Sans, sans-serif" font-size="28.6" fill="#1e2b3b" textLength="146.50" lengthAdjust="spacingAndGlyphs">Monitoring</text>

</svg>
</body></html>
